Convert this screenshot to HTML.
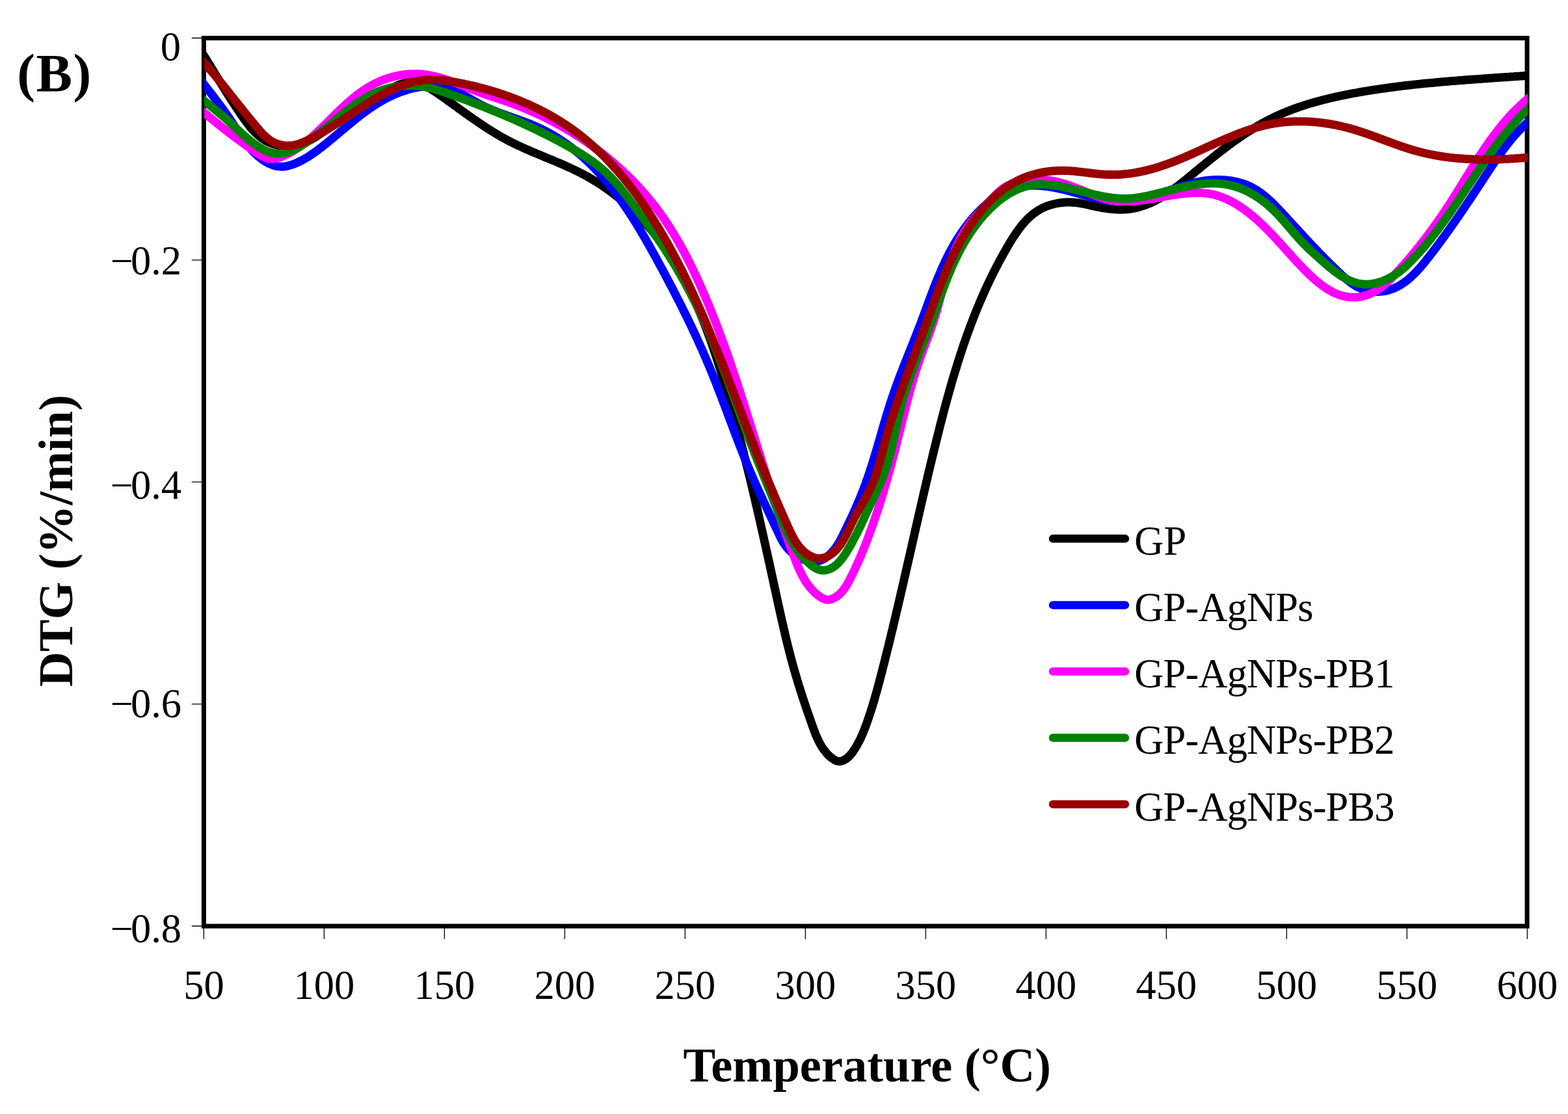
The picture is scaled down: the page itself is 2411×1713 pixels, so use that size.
<!DOCTYPE html>
<html lang="en"><head><meta charset="utf-8"><title>DTG curves (B)</title>
<style>html,body{margin:0;padding:0;background:#fff}body{width:2411px;height:1713px;overflow:hidden}svg{display:block}text{font-family:"Liberation Serif","DejaVu Serif",serif;fill:#000}.t{font-size:62.5px}.b{font-weight:bold}</style></head><body>
<svg xmlns="http://www.w3.org/2000/svg" width="2411" height="1713" viewBox="0 0 2411 1713">
<rect width="2411" height="1713" fill="#fff"/>
<defs><clipPath id="pa"><rect x="314" y="0" width="2035" height="1713"/></clipPath></defs>
<rect x="313.4" y="58.6" width="2034.7" height="1365.5" fill="none" stroke="#000" stroke-width="7"/>
<path d="M294.8,58.5H311.4 M294.8,399.9H311.4 M294.8,741.2H311.4 M294.8,1082.6H311.4 M294.8,1424.0H311.4 M313.4,1426.0V1444 M498.4,1426.0V1444 M683.4,1426.0V1444 M868.4,1426.0V1444 M1053.4,1426.0V1444 M1238.4,1426.0V1444 M1423.4,1426.0V1444 M1608.4,1426.0V1444 M1793.4,1426.0V1444 M1978.4,1426.0V1444 M2163.4,1426.0V1444 M2348.4,1426.0V1444" stroke="#000" stroke-width="1.3" fill="none"/>
<g clip-path="url(#pa)" fill="none" stroke-linejoin="round" stroke-width="13">
<path stroke="#000000" d="M300.0,64.0 L301.3,66.1 L302.7,68.2 L304.0,70.3 L305.4,72.5 L306.7,74.6 L308.0,76.7 L309.4,78.8 L310.7,80.9 L312.0,83.1 L313.3,85.2 L314.6,87.3 L316.0,89.4 L317.3,91.5 L318.6,93.7 L319.9,95.8 L321.2,97.9 L322.5,100.0 L323.8,102.1 L325.1,104.3 L326.4,106.4 L327.7,108.5 L329.0,110.6 L330.2,112.7 L331.5,114.9 L332.8,117.0 L334.1,119.1 L335.4,121.2 L336.7,123.3 L338.0,125.5 L339.3,127.6 L340.6,129.7 L341.9,131.8 L343.3,133.9 L344.6,136.0 L345.9,138.1 L347.2,140.2 L348.5,142.3 L349.9,144.4 L351.2,146.6 L352.5,148.7 L353.9,150.8 L355.2,152.9 L356.6,155.0 L357.9,157.0 L359.3,159.1 L360.6,161.2 L362.0,163.3 L363.4,165.4 L364.8,167.5 L366.2,169.6 L367.6,171.7 L369.0,173.7 L370.4,175.8 L371.8,177.9 L373.3,180.0 L374.7,182.0 L376.2,184.1 L377.7,186.1 L379.2,188.2 L380.7,190.2 L382.2,192.2 L383.8,194.1 L385.4,196.1 L387.0,198.0 L388.6,199.8 L390.3,201.6 L392.0,203.4 L393.8,205.1 L395.6,206.8 L397.4,208.4 L399.3,210.0 L401.3,211.5 L403.3,213.0 L405.3,214.3 L407.4,215.6 L409.5,216.9 L411.8,218.0 L414.0,219.1 L416.4,220.0 L418.7,220.9 L421.2,221.7 L423.6,222.4 L426.1,223.1 L428.6,223.6 L431.1,224.0 L433.6,224.4 L436.2,224.6 L438.7,224.8 L441.2,224.8 L443.7,224.8 L446.1,224.6 L448.6,224.4 L451.1,224.1 L453.5,223.7 L455.9,223.2 L458.4,222.7 L460.7,222.0 L463.1,221.3 L465.5,220.5 L467.8,219.6 L470.1,218.7 L472.4,217.7 L474.6,216.6 L476.9,215.5 L479.1,214.3 L481.2,213.0 L483.4,211.7 L485.5,210.4 L487.6,209.0 L489.7,207.6 L491.8,206.2 L493.9,204.8 L496.0,203.4 L498.1,201.9 L500.1,200.5 L502.2,199.2 L504.3,197.8 L506.4,196.4 L508.5,195.1 L510.6,193.7 L512.7,192.4 L514.8,191.0 L516.9,189.7 L519.0,188.4 L521.1,187.1 L523.3,185.8 L525.4,184.5 L527.5,183.2 L529.6,181.9 L531.7,180.6 L533.8,179.3 L536.0,178.1 L538.1,176.8 L540.2,175.5 L542.3,174.2 L544.4,172.9 L546.5,171.6 L548.7,170.4 L550.8,169.1 L552.9,167.8 L555.0,166.5 L557.1,165.2 L559.2,163.8 L561.3,162.5 L563.4,161.2 L565.5,159.9 L567.6,158.5 L569.7,157.2 L571.8,155.8 L573.9,154.4 L576.0,153.1 L578.1,151.7 L580.2,150.2 L582.3,148.8 L584.4,147.4 L586.4,146.0 L588.5,144.5 L590.6,143.1 L592.7,141.7 L594.8,140.3 L597.0,139.0 L599.1,137.7 L601.3,136.4 L603.4,135.2 L605.6,134.0 L607.9,132.9 L610.1,131.8 L612.4,130.8 L614.7,129.9 L617.1,129.1 L619.5,128.3 L621.9,127.7 L624.3,127.1 L626.8,126.7 L629.2,126.5 L631.6,126.4 L634.1,126.4 L636.5,126.6 L638.9,127.0 L641.3,127.5 L643.7,128.1 L646.0,128.9 L648.4,129.7 L650.7,130.7 L653.0,131.7 L655.3,132.9 L657.6,134.1 L659.9,135.3 L662.1,136.6 L664.3,138.0 L666.5,139.4 L668.7,140.8 L670.8,142.2 L672.9,143.6 L675.0,145.1 L677.1,146.5 L679.1,147.9 L681.1,149.3 L683.1,150.8 L685.1,152.2 L687.1,153.6 L689.1,155.0 L691.1,156.5 L693.0,157.9 L695.0,159.3 L697.0,160.8 L699.0,162.2 L701.0,163.6 L703.0,165.1 L704.9,166.5 L706.9,168.0 L708.9,169.4 L710.9,170.9 L713.0,172.3 L715.0,173.8 L717.0,175.2 L719.0,176.6 L721.0,178.1 L723.1,179.5 L725.1,180.9 L727.1,182.4 L729.2,183.8 L731.2,185.2 L733.3,186.6 L735.4,188.0 L737.4,189.4 L739.5,190.8 L741.6,192.2 L743.7,193.6 L745.7,195.0 L747.8,196.3 L749.9,197.7 L752.1,199.0 L754.2,200.4 L756.3,201.7 L758.4,203.0 L760.6,204.3 L762.7,205.6 L764.8,206.9 L767.0,208.2 L769.2,209.4 L771.3,210.7 L773.5,211.9 L775.7,213.1 L777.9,214.3 L780.1,215.5 L782.3,216.6 L784.5,217.8 L786.8,218.9 L789.0,220.0 L791.2,221.1 L793.5,222.2 L795.8,223.3 L798.0,224.3 L800.3,225.4 L802.5,226.4 L804.8,227.5 L807.1,228.5 L809.4,229.5 L811.7,230.5 L814.0,231.5 L816.3,232.5 L818.6,233.5 L820.9,234.5 L823.2,235.4 L825.5,236.4 L827.8,237.4 L830.1,238.3 L832.4,239.3 L834.7,240.2 L837.0,241.2 L839.4,242.2 L841.7,243.1 L844.0,244.1 L846.3,245.0 L848.6,246.0 L850.9,246.9 L853.2,247.9 L855.5,248.9 L857.8,249.9 L860.1,250.8 L862.4,251.8 L864.7,252.8 L867.0,253.8 L869.3,254.8 L871.5,255.8 L873.8,256.9 L876.1,257.9 L878.3,258.9 L880.6,260.0 L882.8,261.1 L885.1,262.1 L887.3,263.2 L889.6,264.3 L891.8,265.5 L894.0,266.6 L896.2,267.7 L898.4,268.9 L900.6,270.1 L902.8,271.3 L904.9,272.5 L907.1,273.8 L909.2,275.0 L911.4,276.3 L913.5,277.6 L915.6,278.9 L917.7,280.2 L919.8,281.5 L921.9,282.9 L924.0,284.2 L926.1,285.6 L928.2,287.0 L930.2,288.4 L932.3,289.9 L934.3,291.3 L936.3,292.8 L938.3,294.2 L940.3,295.7 L942.3,297.2 L944.3,298.7 L946.3,300.3 L948.2,301.8 L950.2,303.4 L952.1,305.0 L954.0,306.5 L956.0,308.1 L957.9,309.8 L959.8,311.4 L961.6,313.0 L963.5,314.7 L965.4,316.4 L967.2,318.0 L969.1,319.7 L970.9,321.4 L972.7,323.1 L974.5,324.9 L976.3,326.6 L978.1,328.4 L979.9,330.1 L981.6,331.9 L983.4,333.7 L985.1,335.5 L986.8,337.3 L988.5,339.1 L990.2,341.0 L991.9,342.8 L993.6,344.7 L995.2,346.5 L996.9,348.4 L998.5,350.3 L1000.1,352.2 L1001.8,354.1 L1003.3,356.0 L1004.9,357.9 L1006.5,359.8 L1008.1,361.8 L1009.6,363.7 L1011.1,365.7 L1012.7,367.7 L1014.2,369.6 L1015.7,371.6 L1017.1,373.6 L1018.6,375.6 L1020.1,377.6 L1021.5,379.7 L1022.9,381.7 L1024.4,383.7 L1025.8,385.8 L1027.1,387.8 L1028.5,389.9 L1029.9,391.9 L1031.3,394.0 L1032.6,396.1 L1033.9,398.2 L1035.3,400.3 L1036.6,402.4 L1037.9,404.5 L1039.1,406.6 L1040.4,408.7 L1041.7,410.9 L1042.9,413.0 L1044.2,415.1 L1045.4,417.3 L1046.6,419.5 L1047.8,421.6 L1049.0,423.8 L1050.2,426.0 L1051.4,428.2 L1052.6,430.3 L1053.7,432.5 L1054.9,434.7 L1056.0,437.0 L1057.2,439.2 L1058.3,441.4 L1059.4,443.6 L1060.5,445.8 L1061.6,448.1 L1062.7,450.3 L1063.7,452.6 L1064.8,454.8 L1065.8,457.1 L1066.9,459.3 L1067.9,461.6 L1069.0,463.9 L1070.0,466.2 L1071.0,468.4 L1072.0,470.7 L1073.0,473.0 L1074.0,475.3 L1074.9,477.6 L1075.9,479.9 L1076.9,482.2 L1077.8,484.5 L1078.8,486.8 L1079.7,489.2 L1080.7,491.5 L1081.6,493.8 L1082.5,496.1 L1083.4,498.5 L1084.3,500.8 L1085.2,503.2 L1086.1,505.5 L1087.0,507.8 L1087.9,510.2 L1088.7,512.5 L1089.6,514.9 L1090.5,517.3 L1091.3,519.6 L1092.2,522.0 L1093.0,524.4 L1093.8,526.7 L1094.7,529.1 L1095.5,531.5 L1096.3,533.8 L1097.1,536.2 L1097.9,538.6 L1098.7,541.0 L1099.5,543.4 L1100.3,545.8 L1101.1,548.1 L1101.9,550.5 L1102.7,552.9 L1103.4,555.3 L1104.2,557.7 L1105.0,560.1 L1105.7,562.5 L1106.5,564.9 L1107.2,567.3 L1108.0,569.7 L1108.7,572.1 L1109.5,574.5 L1110.2,576.9 L1110.9,579.3 L1111.7,581.7 L1112.4,584.1 L1113.1,586.5 L1113.9,588.9 L1114.6,591.3 L1115.3,593.7 L1116.0,596.1 L1116.7,598.5 L1117.4,600.9 L1118.1,603.3 L1118.8,605.7 L1119.5,608.1 L1120.2,610.5 L1120.9,612.9 L1121.6,615.3 L1122.3,617.7 L1123.0,620.1 L1123.6,622.5 L1124.3,625.0 L1125.0,627.4 L1125.7,629.8 L1126.3,632.2 L1127.0,634.6 L1127.7,637.0 L1128.3,639.4 L1129.0,641.8 L1129.7,644.2 L1130.3,646.6 L1131.0,649.0 L1131.6,651.4 L1132.3,653.8 L1132.9,656.2 L1133.6,658.6 L1134.2,661.0 L1134.9,663.4 L1135.5,665.8 L1136.1,668.2 L1136.8,670.6 L1137.4,673.1 L1138.0,675.5 L1138.7,677.9 L1139.3,680.3 L1139.9,682.7 L1140.5,685.1 L1141.1,687.5 L1141.8,689.9 L1142.4,692.3 L1143.0,694.7 L1143.6,697.1 L1144.2,699.5 L1144.8,702.0 L1145.4,704.4 L1146.0,706.8 L1146.6,709.2 L1147.2,711.6 L1147.8,714.0 L1148.4,716.4 L1149.0,718.8 L1149.6,721.2 L1150.2,723.6 L1150.8,726.1 L1151.4,728.5 L1152.0,730.9 L1152.6,733.3 L1153.2,735.7 L1153.7,738.1 L1154.3,740.5 L1154.9,743.0 L1155.5,745.4 L1156.1,747.8 L1156.6,750.2 L1157.2,752.6 L1157.8,755.0 L1158.4,757.4 L1158.9,759.9 L1159.5,762.3 L1160.1,764.7 L1160.6,767.1 L1161.2,769.5 L1161.8,772.0 L1162.3,774.4 L1162.9,776.8 L1163.4,779.2 L1164.0,781.6 L1164.6,784.1 L1165.1,786.5 L1165.7,788.9 L1166.2,791.3 L1166.8,793.7 L1167.3,796.2 L1167.9,798.6 L1168.4,801.0 L1169.0,803.4 L1169.5,805.9 L1170.1,808.3 L1170.6,810.7 L1171.2,813.1 L1171.7,815.6 L1172.3,818.0 L1172.8,820.4 L1173.4,822.8 L1173.9,825.3 L1174.5,827.7 L1175.0,830.1 L1175.5,832.6 L1176.1,835.0 L1176.6,837.4 L1177.2,839.9 L1177.7,842.3 L1178.2,844.7 L1178.8,847.2 L1179.3,849.6 L1179.9,852.0 L1180.4,854.5 L1180.9,856.9 L1181.5,859.3 L1182.0,861.8 L1182.5,864.2 L1183.1,866.6 L1183.6,869.1 L1184.1,871.5 L1184.7,874.0 L1185.2,876.4 L1185.7,878.8 L1186.3,881.3 L1186.8,883.7 L1187.3,886.2 L1187.9,888.6 L1188.4,891.1 L1188.9,893.5 L1189.5,895.9 L1190.0,898.4 L1190.5,900.8 L1191.1,903.3 L1191.6,905.7 L1192.1,908.2 L1192.7,910.6 L1193.2,913.1 L1193.7,915.5 L1194.3,918.0 L1194.8,920.4 L1195.3,922.9 L1195.9,925.3 L1196.4,927.8 L1197.0,930.2 L1197.5,932.7 L1198.0,935.1 L1198.6,937.6 L1199.1,940.0 L1199.7,942.5 L1200.2,944.9 L1200.7,947.4 L1201.3,949.8 L1201.8,952.3 L1202.4,954.7 L1203.0,957.2 L1203.5,959.6 L1204.1,962.1 L1204.6,964.5 L1205.2,967.0 L1205.8,969.4 L1206.3,971.8 L1206.9,974.3 L1207.5,976.7 L1208.1,979.1 L1208.6,981.6 L1209.2,984.0 L1209.8,986.4 L1210.4,988.8 L1211.0,991.3 L1211.6,993.7 L1212.2,996.1 L1212.8,998.5 L1213.4,1000.9 L1214.1,1003.3 L1214.7,1005.8 L1215.3,1008.2 L1215.9,1010.6 L1216.6,1013.0 L1217.2,1015.3 L1217.8,1017.7 L1218.5,1020.1 L1219.1,1022.5 L1219.8,1024.9 L1220.5,1027.3 L1221.1,1029.6 L1221.8,1032.0 L1222.5,1034.4 L1223.2,1036.7 L1223.9,1039.1 L1224.6,1041.5 L1225.3,1043.8 L1226.0,1046.2 L1226.7,1048.5 L1227.4,1050.9 L1228.1,1053.2 L1228.9,1055.6 L1229.6,1057.9 L1230.4,1060.3 L1231.1,1062.6 L1231.9,1065.0 L1232.6,1067.3 L1233.4,1069.6 L1234.1,1072.0 L1234.9,1074.3 L1235.7,1076.7 L1236.5,1079.0 L1237.2,1081.4 L1238.0,1083.7 L1238.8,1086.1 L1239.6,1088.5 L1240.4,1090.8 L1241.2,1093.2 L1242.1,1095.6 L1242.9,1097.9 L1243.7,1100.3 L1244.5,1102.7 L1245.4,1105.1 L1246.2,1107.5 L1247.0,1109.9 L1247.9,1112.3 L1248.7,1114.7 L1249.6,1117.1 L1250.5,1119.5 L1251.4,1121.9 L1252.3,1124.3 L1253.2,1126.7 L1254.1,1129.1 L1255.1,1131.4 L1256.1,1133.8 L1257.2,1136.1 L1258.2,1138.4 L1259.4,1140.6 L1260.5,1142.9 L1261.8,1145.0 L1263.0,1147.2 L1264.3,1149.3 L1265.7,1151.4 L1267.2,1153.4 L1268.7,1155.3 L1270.3,1157.3 L1271.9,1159.1 L1273.6,1160.9 L1275.4,1162.6 L1277.3,1164.3 L1279.3,1165.9 L1281.4,1167.3 L1283.5,1168.6 L1285.7,1169.7 L1288.0,1170.4 L1290.3,1170.7 L1292.6,1170.5 L1295.0,1170.0 L1297.3,1169.0 L1299.5,1167.8 L1301.7,1166.4 L1303.7,1164.8 L1305.6,1163.0 L1307.4,1161.1 L1309.0,1159.1 L1310.6,1157.1 L1312.1,1155.0 L1313.5,1152.9 L1314.9,1150.7 L1316.2,1148.6 L1317.5,1146.4 L1318.7,1144.2 L1319.9,1142.0 L1321.1,1139.8 L1322.2,1137.6 L1323.3,1135.4 L1324.3,1133.1 L1325.3,1130.9 L1326.3,1128.6 L1327.3,1126.3 L1328.2,1124.0 L1329.1,1121.7 L1330.0,1119.4 L1330.9,1117.1 L1331.7,1114.8 L1332.6,1112.5 L1333.4,1110.1 L1334.2,1107.8 L1335.0,1105.5 L1335.8,1103.1 L1336.6,1100.8 L1337.4,1098.4 L1338.2,1096.1 L1338.9,1093.7 L1339.7,1091.3 L1340.4,1089.0 L1341.2,1086.6 L1341.9,1084.2 L1342.6,1081.8 L1343.3,1079.5 L1344.1,1077.1 L1344.8,1074.7 L1345.4,1072.3 L1346.1,1069.9 L1346.8,1067.5 L1347.5,1065.1 L1348.2,1062.7 L1348.8,1060.3 L1349.5,1057.9 L1350.1,1055.5 L1350.8,1053.1 L1351.4,1050.7 L1352.1,1048.2 L1352.7,1045.8 L1353.4,1043.4 L1354.0,1041.0 L1354.6,1038.6 L1355.2,1036.2 L1355.9,1033.7 L1356.5,1031.3 L1357.1,1028.9 L1357.7,1026.5 L1358.3,1024.1 L1359.0,1021.6 L1359.6,1019.2 L1360.2,1016.8 L1360.8,1014.4 L1361.4,1012.0 L1362.0,1009.5 L1362.6,1007.1 L1363.2,1004.7 L1363.8,1002.3 L1364.4,999.8 L1365.0,997.4 L1365.6,995.0 L1366.2,992.6 L1366.8,990.1 L1367.4,987.7 L1368.0,985.3 L1368.6,982.9 L1369.2,980.4 L1369.8,978.0 L1370.3,975.6 L1370.9,973.2 L1371.5,970.7 L1372.1,968.3 L1372.7,965.9 L1373.3,963.5 L1373.8,961.0 L1374.4,958.6 L1375.0,956.2 L1375.6,953.7 L1376.2,951.3 L1376.7,948.9 L1377.3,946.5 L1377.9,944.0 L1378.4,941.6 L1379.0,939.2 L1379.6,936.7 L1380.2,934.3 L1380.7,931.9 L1381.3,929.5 L1381.9,927.0 L1382.4,924.6 L1383.0,922.2 L1383.6,919.7 L1384.1,917.3 L1384.7,914.9 L1385.2,912.4 L1385.8,910.0 L1386.4,907.6 L1386.9,905.2 L1387.5,902.7 L1388.1,900.3 L1388.6,897.9 L1389.2,895.4 L1389.7,893.0 L1390.3,890.6 L1390.8,888.1 L1391.4,885.7 L1392.0,883.3 L1392.5,880.8 L1393.1,878.4 L1393.6,876.0 L1394.2,873.6 L1394.7,871.1 L1395.3,868.7 L1395.8,866.3 L1396.4,863.8 L1396.9,861.4 L1397.5,859.0 L1398.1,856.5 L1398.6,854.1 L1399.2,851.7 L1399.7,849.2 L1400.3,846.8 L1400.8,844.4 L1401.4,841.9 L1401.9,839.5 L1402.5,837.1 L1403.0,834.7 L1403.6,832.2 L1404.1,829.8 L1404.7,827.4 L1405.2,824.9 L1405.8,822.5 L1406.3,820.1 L1406.9,817.6 L1407.4,815.2 L1408.0,812.8 L1408.5,810.3 L1409.1,807.9 L1409.7,805.5 L1410.2,803.0 L1410.8,800.6 L1411.3,798.2 L1411.9,795.8 L1412.4,793.3 L1413.0,790.9 L1413.5,788.5 L1414.1,786.0 L1414.7,783.6 L1415.2,781.2 L1415.8,778.7 L1416.3,776.3 L1416.9,773.9 L1417.4,771.5 L1418.0,769.0 L1418.6,766.6 L1419.1,764.2 L1419.7,761.7 L1420.3,759.3 L1420.8,756.9 L1421.4,754.5 L1422.0,752.0 L1422.5,749.6 L1423.1,747.2 L1423.7,744.8 L1424.2,742.3 L1424.8,739.9 L1425.4,737.5 L1425.9,735.1 L1426.5,732.6 L1427.1,730.2 L1427.6,727.8 L1428.2,725.3 L1428.8,722.9 L1429.4,720.5 L1430.0,718.1 L1430.5,715.7 L1431.1,713.2 L1431.7,710.8 L1432.3,708.4 L1432.9,706.0 L1433.4,703.5 L1434.0,701.1 L1434.6,698.7 L1435.2,696.3 L1435.8,693.8 L1436.4,691.4 L1437.0,689.0 L1437.6,686.6 L1438.2,684.2 L1438.8,681.7 L1439.4,679.3 L1439.9,676.9 L1440.5,674.5 L1441.2,672.1 L1441.8,669.6 L1442.4,667.2 L1443.0,664.8 L1443.6,662.4 L1444.2,660.0 L1444.8,657.6 L1445.4,655.1 L1446.0,652.7 L1446.6,650.3 L1447.3,647.9 L1447.9,645.5 L1448.5,643.1 L1449.1,640.7 L1449.8,638.3 L1450.4,635.8 L1451.0,633.4 L1451.7,631.0 L1452.3,628.6 L1452.9,626.2 L1453.6,623.8 L1454.2,621.4 L1454.9,619.0 L1455.5,616.6 L1456.2,614.2 L1456.9,611.8 L1457.5,609.4 L1458.2,607.0 L1458.9,604.6 L1459.5,602.2 L1460.2,599.8 L1460.9,597.4 L1461.6,595.0 L1462.3,592.6 L1462.9,590.2 L1463.6,587.8 L1464.3,585.4 L1465.0,583.0 L1465.7,580.7 L1466.4,578.3 L1467.2,575.9 L1467.9,573.5 L1468.6,571.1 L1469.3,568.7 L1470.1,566.4 L1470.8,564.0 L1471.5,561.6 L1472.3,559.2 L1473.0,556.9 L1473.8,554.5 L1474.5,552.1 L1475.3,549.7 L1476.0,547.4 L1476.8,545.0 L1477.6,542.6 L1478.4,540.3 L1479.1,537.9 L1479.9,535.6 L1480.7,533.2 L1481.5,530.8 L1482.3,528.5 L1483.1,526.1 L1484.0,523.8 L1484.8,521.4 L1485.6,519.1 L1486.4,516.8 L1487.3,514.4 L1488.1,512.1 L1489.0,509.7 L1489.8,507.4 L1490.7,505.1 L1491.5,502.7 L1492.4,500.4 L1493.3,498.1 L1494.2,495.7 L1495.1,493.4 L1496.0,491.1 L1496.9,488.8 L1497.8,486.5 L1498.7,484.1 L1499.6,481.8 L1500.5,479.5 L1501.5,477.2 L1502.4,474.9 L1503.3,472.6 L1504.3,470.3 L1505.3,468.0 L1506.2,465.7 L1507.2,463.4 L1508.2,461.1 L1509.2,458.8 L1510.2,456.5 L1511.2,454.2 L1512.2,452.0 L1513.2,449.7 L1514.2,447.4 L1515.2,445.1 L1516.3,442.9 L1517.3,440.6 L1518.4,438.3 L1519.4,436.0 L1520.5,433.8 L1521.6,431.5 L1522.7,429.3 L1523.8,427.0 L1524.9,424.8 L1526.0,422.5 L1527.1,420.3 L1528.2,418.0 L1529.4,415.8 L1530.5,413.6 L1531.6,411.3 L1532.8,409.1 L1534.0,406.9 L1535.1,404.6 L1536.3,402.4 L1537.5,400.2 L1538.7,398.0 L1539.9,395.8 L1541.1,393.6 L1542.4,391.4 L1543.6,389.2 L1544.8,387.0 L1546.1,384.8 L1547.4,382.6 L1548.6,380.4 L1549.9,378.2 L1551.2,376.0 L1552.5,373.8 L1553.8,371.7 L1555.1,369.5 L1556.5,367.3 L1557.8,365.2 L1559.2,363.1 L1560.6,361.0 L1562.0,358.9 L1563.4,356.8 L1564.9,354.8 L1566.3,352.8 L1567.8,350.8 L1569.3,348.8 L1570.9,346.8 L1572.5,344.9 L1574.1,343.1 L1575.7,341.2 L1577.4,339.4 L1579.0,337.7 L1580.8,335.9 L1582.5,334.3 L1584.3,332.6 L1586.2,331.1 L1588.0,329.5 L1590.0,328.0 L1591.9,326.6 L1593.9,325.2 L1595.9,323.9 L1598.0,322.6 L1600.2,321.4 L1602.3,320.3 L1604.6,319.2 L1606.8,318.2 L1609.1,317.3 L1611.5,316.4 L1613.9,315.6 L1616.3,314.8 L1618.8,314.2 L1621.3,313.5 L1623.8,313.0 L1626.3,312.5 L1628.9,312.1 L1631.4,311.8 L1634.0,311.5 L1636.5,311.3 L1639.1,311.1 L1641.6,311.0 L1644.1,311.0 L1646.6,311.1 L1649.1,311.2 L1651.5,311.4 L1654.0,311.6 L1656.4,311.9 L1658.8,312.2 L1661.2,312.6 L1663.5,313.0 L1665.9,313.5 L1668.3,314.0 L1670.6,314.5 L1673.0,315.0 L1675.4,315.5 L1677.7,316.1 L1680.1,316.6 L1682.5,317.1 L1685.0,317.7 L1687.4,318.2 L1689.9,318.7 L1692.3,319.2 L1694.9,319.6 L1697.4,320.0 L1699.9,320.4 L1702.5,320.8 L1705.1,321.1 L1707.6,321.4 L1710.2,321.6 L1712.8,321.8 L1715.4,322.0 L1718.0,322.1 L1720.6,322.2 L1723.1,322.2 L1725.7,322.2 L1728.2,322.1 L1730.7,321.9 L1733.3,321.8 L1735.7,321.5 L1738.2,321.2 L1740.6,320.8 L1743.1,320.4 L1745.5,319.9 L1747.9,319.4 L1750.2,318.8 L1752.6,318.1 L1754.9,317.4 L1757.2,316.7 L1759.5,315.9 L1761.8,315.1 L1764.0,314.2 L1766.3,313.3 L1768.5,312.4 L1770.7,311.4 L1772.9,310.3 L1775.1,309.3 L1777.2,308.1 L1779.4,307.0 L1781.5,305.8 L1783.7,304.6 L1785.8,303.4 L1787.9,302.1 L1790.0,300.8 L1792.1,299.5 L1794.1,298.1 L1796.2,296.7 L1798.2,295.3 L1800.3,293.9 L1802.3,292.4 L1804.3,291.0 L1806.4,289.5 L1808.4,288.0 L1810.4,286.5 L1812.4,284.9 L1814.4,283.4 L1816.4,281.8 L1818.3,280.2 L1820.3,278.6 L1822.3,277.1 L1824.3,275.5 L1826.2,273.8 L1828.2,272.2 L1830.2,270.6 L1832.1,269.0 L1834.1,267.4 L1836.0,265.8 L1838.0,264.2 L1839.9,262.5 L1841.9,260.9 L1843.9,259.3 L1845.8,257.7 L1847.8,256.1 L1849.7,254.5 L1851.7,252.9 L1853.6,251.3 L1855.6,249.7 L1857.6,248.1 L1859.5,246.6 L1861.5,245.0 L1863.4,243.4 L1865.4,241.8 L1867.4,240.3 L1869.3,238.7 L1871.3,237.2 L1873.3,235.6 L1875.3,234.1 L1877.2,232.5 L1879.2,231.0 L1881.2,229.5 L1883.2,228.0 L1885.2,226.5 L1887.2,225.0 L1889.2,223.5 L1891.2,222.0 L1893.2,220.5 L1895.2,219.1 L1897.2,217.6 L1899.2,216.2 L1901.3,214.7 L1903.3,213.3 L1905.3,211.9 L1907.4,210.5 L1909.4,209.1 L1911.4,207.7 L1913.5,206.4 L1915.6,205.0 L1917.6,203.6 L1919.7,202.3 L1921.8,201.0 L1923.9,199.7 L1926.0,198.4 L1928.1,197.1 L1930.2,195.8 L1932.3,194.6 L1934.4,193.3 L1936.6,192.1 L1938.7,190.9 L1940.8,189.7 L1943.0,188.5 L1945.2,187.3 L1947.3,186.1 L1949.5,185.0 L1951.7,183.9 L1953.9,182.8 L1956.1,181.7 L1958.3,180.6 L1960.5,179.5 L1962.8,178.5 L1965.0,177.5 L1967.3,176.5 L1969.5,175.5 L1971.8,174.5 L1974.1,173.5 L1976.4,172.6 L1978.6,171.6 L1980.9,170.7 L1983.3,169.8 L1985.6,168.9 L1987.9,168.0 L1990.2,167.2 L1992.6,166.3 L1994.9,165.5 L1997.3,164.7 L1999.6,163.9 L2002.0,163.1 L2004.3,162.3 L2006.7,161.5 L2009.1,160.8 L2011.5,160.1 L2013.9,159.3 L2016.3,158.6 L2018.7,157.9 L2021.1,157.2 L2023.5,156.5 L2025.9,155.9 L2028.3,155.2 L2030.8,154.6 L2033.2,153.9 L2035.6,153.3 L2038.1,152.7 L2040.5,152.1 L2042.9,151.5 L2045.4,150.9 L2047.8,150.3 L2050.3,149.8 L2052.8,149.2 L2055.2,148.7 L2057.7,148.1 L2060.1,147.6 L2062.6,147.1 L2065.1,146.6 L2067.5,146.1 L2070.0,145.6 L2072.5,145.1 L2075.0,144.6 L2077.4,144.1 L2079.9,143.7 L2082.4,143.2 L2084.9,142.8 L2087.3,142.3 L2089.8,141.9 L2092.3,141.4 L2094.8,141.0 L2097.2,140.6 L2099.7,140.2 L2102.2,139.8 L2104.7,139.4 L2107.1,139.0 L2109.6,138.6 L2112.1,138.2 L2114.6,137.8 L2117.0,137.5 L2119.5,137.1 L2122.0,136.7 L2124.4,136.4 L2126.9,136.0 L2129.4,135.7 L2131.9,135.3 L2134.3,135.0 L2136.8,134.6 L2139.3,134.3 L2141.7,134.0 L2144.2,133.7 L2146.7,133.4 L2149.1,133.0 L2151.6,132.7 L2154.1,132.4 L2156.5,132.1 L2159.0,131.8 L2161.5,131.5 L2163.9,131.3 L2166.4,131.0 L2168.9,130.7 L2171.3,130.4 L2173.8,130.1 L2176.3,129.9 L2178.7,129.6 L2181.2,129.4 L2183.7,129.1 L2186.1,128.8 L2188.6,128.6 L2191.1,128.3 L2193.5,128.1 L2196.0,127.9 L2198.5,127.6 L2200.9,127.4 L2203.4,127.2 L2205.9,126.9 L2208.3,126.7 L2210.8,126.5 L2213.3,126.3 L2215.7,126.0 L2218.2,125.8 L2220.7,125.6 L2223.1,125.4 L2225.6,125.2 L2228.1,125.0 L2230.5,124.8 L2233.0,124.6 L2235.5,124.4 L2238.0,124.2 L2240.4,124.0 L2242.9,123.8 L2245.4,123.6 L2247.8,123.4 L2250.3,123.2 L2252.8,123.0 L2255.3,122.8 L2257.7,122.6 L2260.2,122.5 L2262.7,122.3 L2265.2,122.1 L2267.7,121.9 L2270.1,121.7 L2272.6,121.6 L2275.1,121.4 L2277.6,121.2 L2280.1,121.0 L2282.6,120.8 L2285.0,120.7 L2287.5,120.5 L2290.0,120.3 L2292.5,120.2 L2295.0,120.0 L2297.5,119.8 L2300.0,119.6 L2302.5,119.5 L2305.0,119.3 L2307.5,119.1 L2309.9,119.0 L2312.4,118.8 L2314.9,118.6 L2317.4,118.4 L2319.9,118.3 L2322.4,118.1 L2324.9,117.9 L2327.5,117.8 L2330.0,117.6 L2332.5,117.4 L2335.0,117.2 L2337.5,117.1 L2340.0,116.9 L2342.5,116.7 L2345.0,116.5 L2347.5,116.4 L2350.0,116.2 L2352.6,116.0 L2355.1,115.8 L2357.6,115.6 L2360.1,115.4"/>
<path stroke="#0000ff" d="M299.9,111.0 L301.2,112.9 L302.6,114.7 L303.9,116.5 L305.2,118.4 L306.5,120.2 L307.9,122.0 L309.2,123.8 L310.6,125.6 L311.9,127.4 L313.3,129.2 L314.6,131.0 L316.0,132.7 L317.3,134.5 L318.7,136.3 L320.0,138.0 L321.4,139.8 L322.8,141.6 L324.1,143.3 L325.5,145.1 L326.8,146.8 L328.2,148.6 L329.5,150.3 L330.9,152.1 L332.2,153.9 L333.6,155.6 L334.9,157.4 L336.3,159.2 L337.6,160.9 L338.9,162.7 L340.2,164.5 L341.6,166.3 L342.9,168.1 L344.2,169.9 L345.5,171.7 L346.8,173.5 L348.1,175.3 L349.3,177.1 L350.6,179.0 L351.9,180.8 L353.1,182.7 L354.4,184.6 L355.6,186.4 L356.9,188.3 L358.1,190.2 L359.3,192.1 L360.5,194.0 L361.8,195.9 L363.0,197.8 L364.2,199.7 L365.5,201.6 L366.7,203.5 L367.9,205.4 L369.2,207.3 L370.4,209.1 L371.7,211.0 L373.0,212.9 L374.3,214.7 L375.6,216.5 L376.9,218.3 L378.3,220.1 L379.6,221.9 L381.0,223.7 L382.4,225.4 L383.9,227.1 L385.3,228.8 L386.8,230.5 L388.3,232.1 L389.9,233.7 L391.4,235.3 L393.0,236.8 L394.7,238.3 L396.3,239.8 L398.0,241.2 L399.8,242.6 L401.6,244.0 L403.4,245.3 L405.3,246.6 L407.2,247.8 L409.1,249.0 L411.1,250.1 L413.1,251.2 L415.2,252.1 L417.3,253.0 L419.4,253.8 L421.5,254.5 L423.7,255.1 L425.8,255.6 L428.0,255.9 L430.2,256.1 L432.4,256.2 L434.6,256.2 L436.8,256.0 L439.0,255.7 L441.2,255.3 L443.4,254.8 L445.6,254.2 L447.8,253.6 L450.0,252.9 L452.1,252.1 L454.3,251.2 L456.4,250.3 L458.5,249.4 L460.5,248.4 L462.6,247.4 L464.6,246.3 L466.6,245.3 L468.5,244.2 L470.5,243.0 L472.4,241.9 L474.3,240.7 L476.2,239.5 L478.1,238.2 L479.9,237.0 L481.8,235.7 L483.6,234.4 L485.4,233.1 L487.3,231.8 L489.1,230.4 L490.8,229.1 L492.6,227.7 L494.4,226.4 L496.2,225.0 L497.9,223.6 L499.7,222.2 L501.4,220.8 L503.2,219.4 L504.9,218.0 L506.6,216.6 L508.4,215.2 L510.1,213.7 L511.8,212.3 L513.5,210.9 L515.2,209.4 L517.0,208.0 L518.7,206.6 L520.4,205.1 L522.1,203.7 L523.8,202.2 L525.5,200.8 L527.2,199.4 L528.9,197.9 L530.6,196.5 L532.3,195.1 L534.0,193.6 L535.8,192.2 L537.5,190.8 L539.2,189.3 L540.9,187.9 L542.6,186.5 L544.4,185.1 L546.1,183.7 L547.8,182.3 L549.6,180.9 L551.3,179.6 L553.1,178.2 L554.8,176.8 L556.6,175.5 L558.4,174.2 L560.2,172.8 L562.0,171.5 L563.8,170.2 L565.6,168.9 L567.4,167.6 L569.2,166.4 L571.1,165.1 L572.9,163.9 L574.8,162.6 L576.6,161.4 L578.5,160.2 L580.4,159.0 L582.3,157.9 L584.2,156.7 L586.2,155.6 L588.1,154.5 L590.1,153.4 L592.0,152.3 L594.0,151.3 L596.0,150.2 L598.1,149.2 L600.1,148.2 L602.1,147.3 L604.2,146.3 L606.3,145.4 L608.4,144.5 L610.5,143.6 L612.6,142.8 L614.7,142.0 L616.9,141.2 L619.0,140.4 L621.2,139.7 L623.3,139.0 L625.5,138.3 L627.7,137.6 L629.9,137.0 L632.0,136.5 L634.2,135.9 L636.4,135.4 L638.6,134.9 L640.9,134.5 L643.1,134.1 L645.3,133.7 L647.5,133.4 L649.7,133.1 L651.9,132.9 L654.1,132.7 L656.4,132.5 L658.6,132.4 L660.8,132.4 L663.0,132.3 L665.2,132.4 L667.4,132.4 L669.6,132.6 L671.8,132.7 L673.9,132.9 L676.1,133.2 L678.3,133.5 L680.4,133.9 L682.6,134.3 L684.7,134.8 L686.9,135.3 L689.0,135.9 L691.1,136.5 L693.2,137.2 L695.3,137.9 L697.3,138.7 L699.4,139.6 L701.4,140.5 L703.5,141.4 L705.5,142.4 L707.5,143.4 L709.6,144.4 L711.6,145.5 L713.6,146.6 L715.6,147.7 L717.6,148.8 L719.6,150.0 L721.6,151.1 L723.6,152.3 L725.6,153.4 L727.6,154.6 L729.5,155.7 L731.6,156.8 L733.6,157.9 L735.6,159.0 L737.6,160.1 L739.6,161.2 L741.6,162.2 L743.7,163.2 L745.7,164.2 L747.8,165.1 L749.8,166.0 L751.9,167.0 L753.9,167.8 L756.0,168.7 L758.1,169.6 L760.2,170.4 L762.2,171.3 L764.3,172.1 L766.4,172.9 L768.5,173.7 L770.6,174.4 L772.7,175.2 L774.8,176.0 L776.9,176.7 L778.9,177.5 L781.0,178.2 L783.1,179.0 L785.2,179.7 L787.3,180.5 L789.4,181.2 L791.5,181.9 L793.6,182.7 L795.7,183.4 L797.8,184.2 L799.9,184.9 L802.0,185.7 L804.1,186.5 L806.2,187.2 L808.2,188.0 L810.3,188.8 L812.4,189.6 L814.5,190.4 L816.5,191.3 L818.6,192.1 L820.6,193.0 L822.7,193.9 L824.7,194.8 L826.8,195.7 L828.8,196.6 L830.8,197.6 L832.8,198.5 L834.9,199.5 L836.9,200.5 L838.9,201.6 L840.8,202.6 L842.8,203.7 L844.8,204.8 L846.8,205.9 L848.7,207.0 L850.7,208.1 L852.6,209.3 L854.5,210.4 L856.5,211.6 L858.4,212.8 L860.3,214.0 L862.1,215.2 L864.0,216.5 L865.9,217.7 L867.7,219.0 L869.6,220.3 L871.4,221.6 L873.2,222.9 L875.0,224.2 L876.8,225.5 L878.6,226.9 L880.3,228.2 L882.1,229.6 L883.8,231.0 L885.5,232.4 L887.3,233.8 L889.0,235.2 L890.7,236.6 L892.3,238.1 L894.0,239.5 L895.7,241.0 L897.3,242.4 L899.0,243.9 L900.6,245.4 L902.2,246.9 L903.8,248.5 L905.4,250.0 L907.0,251.5 L908.6,253.1 L910.2,254.6 L911.7,256.2 L913.3,257.8 L914.8,259.4 L916.3,261.0 L917.9,262.6 L919.4,264.2 L920.9,265.9 L922.4,267.5 L923.8,269.1 L925.3,270.8 L926.8,272.5 L928.2,274.1 L929.7,275.8 L931.1,277.5 L932.5,279.2 L934.0,280.9 L935.4,282.6 L936.8,284.4 L938.2,286.1 L939.6,287.8 L940.9,289.6 L942.3,291.4 L943.7,293.1 L945.0,294.9 L946.4,296.7 L947.7,298.5 L949.0,300.2 L950.4,302.0 L951.7,303.9 L953.0,305.7 L954.3,307.5 L955.6,309.3 L956.9,311.1 L958.2,313.0 L959.4,314.8 L960.7,316.7 L962.0,318.5 L963.2,320.4 L964.5,322.3 L965.7,324.1 L967.0,326.0 L968.2,327.9 L969.4,329.8 L970.7,331.7 L971.9,333.6 L973.1,335.5 L974.3,337.4 L975.5,339.3 L976.7,341.2 L977.9,343.1 L979.0,345.0 L980.2,347.0 L981.4,348.9 L982.6,350.8 L983.7,352.7 L984.9,354.7 L986.0,356.6 L987.2,358.6 L988.3,360.5 L989.5,362.5 L990.6,364.4 L991.8,366.4 L992.9,368.3 L994.0,370.3 L995.1,372.3 L996.3,374.2 L997.4,376.2 L998.5,378.2 L999.6,380.1 L1000.7,382.1 L1001.8,384.1 L1002.9,386.0 L1004.0,388.0 L1005.1,390.0 L1006.2,392.0 L1007.3,393.9 L1008.4,395.9 L1009.4,397.9 L1010.5,399.9 L1011.6,401.9 L1012.7,403.8 L1013.7,405.8 L1014.8,407.8 L1015.9,409.8 L1017.0,411.7 L1018.0,413.7 L1019.1,415.7 L1020.1,417.7 L1021.2,419.7 L1022.3,421.6 L1023.3,423.6 L1024.4,425.6 L1025.4,427.6 L1026.5,429.5 L1027.5,431.5 L1028.6,433.5 L1029.6,435.5 L1030.6,437.5 L1031.7,439.4 L1032.7,441.4 L1033.8,443.4 L1034.8,445.4 L1035.8,447.4 L1036.8,449.3 L1037.9,451.3 L1038.9,453.3 L1039.9,455.3 L1040.9,457.3 L1041.9,459.3 L1042.9,461.2 L1044.0,463.2 L1045.0,465.2 L1046.0,467.2 L1047.0,469.2 L1048.0,471.2 L1049.0,473.2 L1050.0,475.2 L1050.9,477.2 L1051.9,479.1 L1052.9,481.1 L1053.9,483.1 L1054.9,485.1 L1055.9,487.1 L1056.8,489.1 L1057.8,491.1 L1058.8,493.1 L1059.7,495.1 L1060.7,497.1 L1061.7,499.1 L1062.6,501.1 L1063.6,503.1 L1064.5,505.1 L1065.5,507.1 L1066.4,509.2 L1067.4,511.2 L1068.3,513.2 L1069.3,515.2 L1070.2,517.2 L1071.1,519.2 L1072.0,521.2 L1073.0,523.3 L1073.9,525.3 L1074.8,527.3 L1075.7,529.3 L1076.6,531.4 L1077.5,533.4 L1078.5,535.4 L1079.4,537.4 L1080.3,539.5 L1081.2,541.5 L1082.0,543.5 L1082.9,545.6 L1083.8,547.6 L1084.7,549.7 L1085.6,551.7 L1086.5,553.8 L1087.3,555.8 L1088.2,557.8 L1089.1,559.9 L1089.9,562.0 L1090.8,564.0 L1091.7,566.1 L1092.5,568.1 L1093.4,570.2 L1094.2,572.3 L1095.0,574.3 L1095.9,576.4 L1096.7,578.5 L1097.6,580.5 L1098.4,582.6 L1099.2,584.7 L1100.0,586.8 L1100.9,588.9 L1101.7,590.9 L1102.5,593.0 L1103.3,595.1 L1104.1,597.2 L1104.9,599.3 L1105.7,601.4 L1106.5,603.5 L1107.3,605.6 L1108.1,607.6 L1108.9,609.7 L1109.7,611.8 L1110.5,613.9 L1111.3,616.0 L1112.1,618.1 L1112.9,620.2 L1113.7,622.3 L1114.5,624.4 L1115.3,626.5 L1116.1,628.6 L1116.9,630.7 L1117.7,632.8 L1118.5,634.9 L1119.2,637.0 L1120.0,639.1 L1120.8,641.3 L1121.6,643.4 L1122.4,645.5 L1123.2,647.6 L1124.0,649.7 L1124.8,651.8 L1125.6,653.9 L1126.3,656.0 L1127.1,658.1 L1127.9,660.2 L1128.7,662.3 L1129.5,664.4 L1130.3,666.5 L1131.1,668.6 L1131.9,670.7 L1132.7,672.8 L1133.5,674.9 L1134.3,677.0 L1135.1,679.1 L1135.9,681.2 L1136.7,683.3 L1137.5,685.4 L1138.3,687.4 L1139.1,689.5 L1140.0,691.6 L1140.8,693.7 L1141.6,695.8 L1142.4,697.9 L1143.3,700.0 L1144.1,702.1 L1144.9,704.1 L1145.7,706.2 L1146.6,708.3 L1147.4,710.4 L1148.3,712.4 L1149.1,714.5 L1150.0,716.6 L1150.8,718.6 L1151.7,720.7 L1152.6,722.8 L1153.4,724.8 L1154.3,726.9 L1155.2,728.9 L1156.0,731.0 L1156.9,733.0 L1157.8,735.1 L1158.7,737.1 L1159.6,739.2 L1160.5,741.2 L1161.4,743.2 L1162.3,745.3 L1163.2,747.3 L1164.1,749.3 L1165.1,751.4 L1166.0,753.4 L1166.9,755.4 L1167.8,757.5 L1168.8,759.5 L1169.7,761.5 L1170.6,763.5 L1171.6,765.5 L1172.5,767.6 L1173.5,769.6 L1174.4,771.6 L1175.3,773.6 L1176.3,775.6 L1177.2,777.7 L1178.2,779.7 L1179.1,781.7 L1180.1,783.7 L1181.0,785.7 L1182.0,787.8 L1182.9,789.8 L1183.9,791.8 L1184.8,793.8 L1185.8,795.9 L1186.8,797.9 L1187.7,799.9 L1188.7,801.9 L1189.6,804.0 L1190.6,806.0 L1191.5,808.0 L1192.5,810.1 L1193.4,812.1 L1194.4,814.1 L1195.3,816.2 L1196.3,818.2 L1197.2,820.3 L1198.2,822.3 L1199.1,824.3 L1200.1,826.3 L1201.2,828.3 L1202.2,830.3 L1203.3,832.2 L1204.4,834.1 L1205.6,836.0 L1206.9,837.8 L1208.2,839.6 L1209.5,841.3 L1211.0,843.0 L1212.4,844.7 L1214.0,846.3 L1215.6,847.8 L1217.3,849.3 L1219.1,850.7 L1220.9,852.1 L1222.8,853.4 L1224.7,854.6 L1226.7,855.8 L1228.7,857.0 L1230.8,858.0 L1232.9,859.1 L1235.0,860.0 L1237.2,860.9 L1239.4,861.6 L1241.6,862.3 L1243.8,862.8 L1246.0,863.3 L1248.2,863.5 L1250.5,863.7 L1252.6,863.7 L1254.8,863.5 L1256.9,863.1 L1259.0,862.6 L1261.1,862.0 L1263.1,861.2 L1265.1,860.2 L1267.1,859.2 L1269.0,858.0 L1270.9,856.7 L1272.7,855.3 L1274.5,853.8 L1276.2,852.2 L1277.9,850.6 L1279.5,848.9 L1281.1,847.1 L1282.6,845.3 L1284.0,843.5 L1285.4,841.6 L1286.7,839.7 L1288.0,837.8 L1289.2,835.9 L1290.3,834.0 L1291.4,832.1 L1292.4,830.1 L1293.4,828.2 L1294.4,826.3 L1295.4,824.3 L1296.4,822.3 L1297.3,820.4 L1298.3,818.4 L1299.3,816.5 L1300.3,814.5 L1301.2,812.5 L1302.2,810.5 L1303.2,808.5 L1304.1,806.5 L1305.1,804.5 L1306.0,802.5 L1307.0,800.5 L1307.9,798.5 L1308.9,796.4 L1309.8,794.4 L1310.8,792.4 L1311.7,790.3 L1312.6,788.3 L1313.5,786.3 L1314.5,784.2 L1315.4,782.2 L1316.3,780.1 L1317.2,778.0 L1318.1,776.0 L1319.0,773.9 L1319.9,771.8 L1320.7,769.8 L1321.6,767.7 L1322.5,765.6 L1323.3,763.5 L1324.2,761.4 L1325.0,759.3 L1325.8,757.2 L1326.6,755.2 L1327.5,753.1 L1328.3,751.0 L1329.0,748.9 L1329.8,746.8 L1330.6,744.7 L1331.4,742.5 L1332.1,740.4 L1332.9,738.3 L1333.6,736.2 L1334.4,734.1 L1335.1,732.0 L1335.8,729.9 L1336.5,727.8 L1337.2,725.6 L1337.9,723.5 L1338.6,721.4 L1339.3,719.3 L1340.0,717.1 L1340.6,715.0 L1341.3,712.9 L1342.0,710.8 L1342.6,708.6 L1343.3,706.5 L1344.0,704.4 L1344.6,702.2 L1345.2,700.1 L1345.9,698.0 L1346.5,695.8 L1347.2,693.7 L1347.8,691.6 L1348.4,689.4 L1349.0,687.3 L1349.7,685.1 L1350.3,683.0 L1350.9,680.9 L1351.5,678.7 L1352.2,676.6 L1352.8,674.5 L1353.4,672.3 L1354.0,670.2 L1354.6,668.0 L1355.2,665.9 L1355.9,663.8 L1356.5,661.6 L1357.1,659.5 L1357.7,657.3 L1358.3,655.2 L1359.0,653.1 L1359.6,650.9 L1360.2,648.8 L1360.9,646.6 L1361.5,644.5 L1362.1,642.4 L1362.8,640.2 L1363.4,638.1 L1364.1,636.0 L1364.7,633.8 L1365.4,631.7 L1366.0,629.6 L1366.7,627.4 L1367.4,625.3 L1368.0,623.2 L1368.7,621.0 L1369.4,618.9 L1370.1,616.8 L1370.8,614.7 L1371.5,612.5 L1372.2,610.4 L1372.9,608.3 L1373.7,606.2 L1374.4,604.1 L1375.1,601.9 L1375.9,599.8 L1376.6,597.7 L1377.4,595.6 L1378.2,593.5 L1378.9,591.4 L1379.7,589.3 L1380.5,587.2 L1381.3,585.0 L1382.0,582.9 L1382.8,580.8 L1383.6,578.7 L1384.4,576.6 L1385.2,574.5 L1386.0,572.4 L1386.9,570.3 L1387.7,568.2 L1388.5,566.1 L1389.3,564.0 L1390.1,561.9 L1391.0,559.8 L1391.8,557.7 L1392.6,555.6 L1393.4,553.6 L1394.3,551.5 L1395.1,549.4 L1395.9,547.3 L1396.8,545.2 L1397.6,543.1 L1398.4,541.0 L1399.3,538.9 L1400.1,536.8 L1400.9,534.7 L1401.8,532.6 L1402.6,530.6 L1403.4,528.5 L1404.3,526.4 L1405.1,524.3 L1405.9,522.2 L1406.8,520.1 L1407.6,518.0 L1408.4,516.0 L1409.2,513.9 L1410.0,511.8 L1410.9,509.7 L1411.7,507.6 L1412.5,505.5 L1413.3,503.4 L1414.1,501.4 L1414.9,499.3 L1415.7,497.2 L1416.5,495.1 L1417.3,493.0 L1418.0,490.9 L1418.8,488.9 L1419.6,486.8 L1420.4,484.7 L1421.1,482.6 L1421.9,480.5 L1422.7,478.4 L1423.5,476.4 L1424.2,474.3 L1425.0,472.2 L1425.7,470.1 L1426.5,468.0 L1427.3,466.0 L1428.0,463.9 L1428.8,461.8 L1429.6,459.7 L1430.4,457.7 L1431.1,455.6 L1431.9,453.5 L1432.7,451.5 L1433.5,449.4 L1434.2,447.3 L1435.0,445.3 L1435.8,443.2 L1436.6,441.2 L1437.4,439.1 L1438.2,437.1 L1439.0,435.0 L1439.9,433.0 L1440.7,430.9 L1441.5,428.9 L1442.3,426.8 L1443.2,424.8 L1444.0,422.8 L1444.9,420.7 L1445.8,418.7 L1446.6,416.7 L1447.5,414.7 L1448.4,412.7 L1449.3,410.6 L1450.2,408.6 L1451.1,406.6 L1452.1,404.6 L1453.0,402.6 L1454.0,400.6 L1454.9,398.6 L1455.9,396.6 L1456.9,394.7 L1457.9,392.7 L1458.9,390.7 L1459.9,388.7 L1461.0,386.8 L1462.0,384.8 L1463.1,382.9 L1464.2,380.9 L1465.3,379.0 L1466.4,377.0 L1467.5,375.1 L1468.7,373.1 L1469.8,371.2 L1471.0,369.3 L1472.2,367.4 L1473.4,365.5 L1474.6,363.6 L1475.9,361.7 L1477.1,359.8 L1478.4,357.9 L1479.7,356.0 L1481.0,354.1 L1482.4,352.2 L1483.7,350.4 L1485.1,348.5 L1486.5,346.7 L1487.9,344.8 L1489.3,343.0 L1490.8,341.2 L1492.2,339.4 L1493.7,337.6 L1495.2,335.8 L1496.7,334.1 L1498.3,332.3 L1499.8,330.6 L1501.4,328.9 L1503.0,327.2 L1504.6,325.6 L1506.2,323.9 L1507.9,322.3 L1509.5,320.7 L1511.2,319.1 L1512.9,317.6 L1514.6,316.0 L1516.3,314.5 L1518.0,313.1 L1519.8,311.6 L1521.6,310.2 L1523.4,308.8 L1525.2,307.5 L1527.0,306.1 L1528.8,304.9 L1530.6,303.6 L1532.5,302.4 L1534.4,301.2 L1536.3,300.0 L1538.2,298.9 L1540.1,297.8 L1542.0,296.8 L1544.0,295.8 L1545.9,294.8 L1547.9,293.9 L1549.9,293.1 L1551.9,292.2 L1553.9,291.4 L1556.0,290.7 L1558.0,290.0 L1560.1,289.3 L1562.1,288.7 L1564.2,288.2 L1566.3,287.7 L1568.4,287.2 L1570.6,286.8 L1572.7,286.5 L1574.8,286.2 L1577.0,285.9 L1579.2,285.7 L1581.3,285.5 L1583.5,285.4 L1585.7,285.3 L1587.9,285.3 L1590.1,285.2 L1592.3,285.3 L1594.6,285.3 L1596.8,285.4 L1599.0,285.6 L1601.2,285.8 L1603.5,286.0 L1605.7,286.2 L1608.0,286.5 L1610.2,286.7 L1612.5,287.1 L1614.7,287.4 L1617.0,287.8 L1619.2,288.2 L1621.5,288.6 L1623.7,289.0 L1626.0,289.5 L1628.2,290.0 L1630.5,290.4 L1632.7,291.0 L1634.9,291.5 L1637.2,292.0 L1639.4,292.6 L1641.6,293.1 L1643.8,293.7 L1646.0,294.3 L1648.2,294.9 L1650.4,295.5 L1652.6,296.1 L1654.8,296.7 L1657.0,297.3 L1659.1,297.9 L1661.3,298.5 L1663.5,299.2 L1665.6,299.8 L1667.8,300.3 L1669.9,300.9 L1672.1,301.5 L1674.2,302.1 L1676.3,302.6 L1678.5,303.2 L1680.6,303.7 L1682.8,304.2 L1684.9,304.7 L1687.1,305.1 L1689.2,305.6 L1691.4,306.0 L1693.5,306.4 L1695.7,306.7 L1697.8,307.1 L1700.0,307.3 L1702.2,307.6 L1704.4,307.8 L1706.5,308.0 L1708.7,308.2 L1710.9,308.3 L1713.1,308.4 L1715.4,308.4 L1717.6,308.4 L1719.8,308.4 L1722.0,308.4 L1724.2,308.3 L1726.5,308.2 L1728.7,308.0 L1730.9,307.9 L1733.2,307.7 L1735.4,307.5 L1737.7,307.2 L1739.9,306.9 L1742.1,306.6 L1744.4,306.3 L1746.6,306.0 L1748.9,305.6 L1751.1,305.2 L1753.3,304.8 L1755.6,304.4 L1757.8,303.9 L1760.0,303.4 L1762.3,302.9 L1764.5,302.4 L1766.7,301.9 L1768.9,301.4 L1771.1,300.8 L1773.3,300.2 L1775.5,299.6 L1777.7,299.0 L1779.9,298.4 L1782.1,297.8 L1784.2,297.1 L1786.4,296.5 L1788.5,295.8 L1790.7,295.2 L1792.8,294.5 L1794.9,293.8 L1797.1,293.1 L1799.2,292.4 L1801.3,291.7 L1803.4,291.0 L1805.5,290.3 L1807.6,289.6 L1809.7,288.9 L1811.8,288.2 L1813.9,287.6 L1816.0,286.9 L1818.1,286.2 L1820.2,285.6 L1822.3,284.9 L1824.4,284.3 L1826.5,283.7 L1828.6,283.1 L1830.7,282.5 L1832.8,282.0 L1835.0,281.4 L1837.1,280.9 L1839.3,280.4 L1841.4,279.9 L1843.6,279.5 L1845.8,279.1 L1848.0,278.7 L1850.2,278.3 L1852.4,278.0 L1854.6,277.7 L1856.9,277.4 L1859.1,277.2 L1861.4,277.0 L1863.7,276.8 L1865.9,276.7 L1868.2,276.6 L1870.5,276.6 L1872.8,276.5 L1875.1,276.5 L1877.3,276.6 L1879.6,276.7 L1881.9,276.8 L1884.2,277.0 L1886.5,277.2 L1888.7,277.4 L1891.0,277.7 L1893.2,278.0 L1895.4,278.4 L1897.7,278.8 L1899.9,279.3 L1902.1,279.7 L1904.2,280.3 L1906.4,280.9 L1908.5,281.5 L1910.7,282.2 L1912.8,282.9 L1914.9,283.6 L1916.9,284.4 L1918.9,285.3 L1921.0,286.2 L1922.9,287.1 L1924.9,288.1 L1926.8,289.2 L1928.7,290.3 L1930.6,291.4 L1932.5,292.5 L1934.3,293.7 L1936.1,295.0 L1937.9,296.2 L1939.7,297.5 L1941.5,298.9 L1943.2,300.3 L1945.0,301.6 L1946.7,303.1 L1948.4,304.5 L1950.0,306.0 L1951.7,307.5 L1953.3,309.0 L1955.0,310.6 L1956.6,312.1 L1958.2,313.7 L1959.8,315.3 L1961.4,316.9 L1963.0,318.5 L1964.6,320.2 L1966.1,321.8 L1967.7,323.4 L1969.3,325.1 L1970.8,326.8 L1972.3,328.4 L1973.9,330.1 L1975.4,331.8 L1977.0,333.4 L1978.5,335.1 L1980.0,336.8 L1981.5,338.4 L1983.1,340.1 L1984.6,341.8 L1986.1,343.4 L1987.6,345.1 L1989.1,346.7 L1990.7,348.4 L1992.2,350.0 L1993.7,351.7 L1995.2,353.3 L1996.7,355.0 L1998.2,356.6 L1999.8,358.3 L2001.3,359.9 L2002.8,361.5 L2004.3,363.2 L2005.8,364.8 L2007.3,366.4 L2008.9,368.1 L2010.4,369.7 L2011.9,371.3 L2013.4,373.0 L2014.9,374.6 L2016.5,376.2 L2018.0,377.8 L2019.5,379.4 L2021.1,381.0 L2022.6,382.6 L2024.1,384.2 L2025.7,385.8 L2027.2,387.5 L2028.7,389.0 L2030.3,390.6 L2031.8,392.2 L2033.4,393.8 L2035.0,395.4 L2036.5,397.0 L2038.1,398.6 L2039.7,400.2 L2041.2,401.7 L2042.8,403.3 L2044.4,404.9 L2046.0,406.5 L2047.6,408.0 L2049.2,409.6 L2050.8,411.1 L2052.4,412.7 L2054.0,414.3 L2055.6,415.8 L2057.2,417.4 L2058.9,418.9 L2060.5,420.4 L2062.1,422.0 L2063.8,423.5 L2065.4,425.0 L2067.1,426.5 L2068.8,428.0 L2070.5,429.5 L2072.2,430.9 L2074.0,432.3 L2075.7,433.7 L2077.5,435.0 L2079.4,436.3 L2081.2,437.5 L2083.1,438.7 L2085.0,439.9 L2086.9,440.9 L2088.9,442.0 L2090.9,442.9 L2093.0,443.8 L2095.1,444.6 L2097.2,445.4 L2099.4,446.1 L2101.6,446.7 L2103.9,447.2 L2106.2,447.6 L2108.5,447.9 L2110.8,448.2 L2113.2,448.4 L2115.5,448.5 L2117.9,448.5 L2120.2,448.4 L2122.4,448.3 L2124.7,448.1 L2126.9,447.8 L2129.1,447.5 L2131.2,447.1 L2133.4,446.6 L2135.5,446.0 L2137.5,445.4 L2139.6,444.7 L2141.6,444.0 L2143.6,443.2 L2145.5,442.3 L2147.4,441.4 L2149.3,440.4 L2151.2,439.4 L2153.1,438.3 L2154.9,437.2 L2156.7,436.0 L2158.5,434.8 L2160.3,433.5 L2162.0,432.2 L2163.8,430.9 L2165.5,429.5 L2167.2,428.1 L2168.8,426.6 L2170.5,425.1 L2172.1,423.6 L2173.7,422.0 L2175.3,420.4 L2176.9,418.8 L2178.5,417.2 L2180.0,415.5 L2181.5,413.8 L2183.1,412.1 L2184.6,410.4 L2186.1,408.6 L2187.6,406.9 L2189.0,405.1 L2190.5,403.3 L2191.9,401.5 L2193.4,399.7 L2194.8,397.9 L2196.2,396.1 L2197.7,394.3 L2199.1,392.5 L2200.5,390.6 L2201.9,388.8 L2203.3,387.0 L2204.6,385.2 L2206.0,383.4 L2207.4,381.5 L2208.8,379.7 L2210.1,377.9 L2211.5,376.1 L2212.8,374.3 L2214.2,372.5 L2215.5,370.7 L2216.8,368.8 L2218.2,367.0 L2219.5,365.2 L2220.8,363.4 L2222.1,361.6 L2223.4,359.8 L2224.7,358.0 L2226.0,356.2 L2227.3,354.4 L2228.6,352.5 L2229.9,350.7 L2231.2,348.9 L2232.5,347.1 L2233.7,345.3 L2235.0,343.5 L2236.3,341.7 L2237.5,339.9 L2238.8,338.0 L2240.1,336.2 L2241.3,334.4 L2242.6,332.6 L2243.8,330.8 L2245.1,329.0 L2246.3,327.1 L2247.5,325.3 L2248.8,323.5 L2250.0,321.7 L2251.3,319.9 L2252.5,318.0 L2253.7,316.2 L2255.0,314.4 L2256.2,312.5 L2257.4,310.7 L2258.7,308.9 L2259.9,307.1 L2261.1,305.2 L2262.3,303.4 L2263.6,301.5 L2264.8,299.7 L2266.0,297.9 L2267.2,296.0 L2268.4,294.2 L2269.7,292.3 L2270.9,290.5 L2272.1,288.6 L2273.3,286.8 L2274.5,284.9 L2275.8,283.1 L2277.0,281.2 L2278.2,279.3 L2279.4,277.5 L2280.7,275.6 L2281.9,273.7 L2283.1,271.9 L2284.3,270.0 L2285.6,268.1 L2286.8,266.2 L2288.0,264.3 L2289.3,262.5 L2290.5,260.6 L2291.7,258.7 L2293.0,256.8 L2294.2,254.9 L2295.5,253.1 L2296.7,251.2 L2298.0,249.3 L2299.3,247.4 L2300.5,245.6 L2301.8,243.7 L2303.1,241.8 L2304.4,240.0 L2305.7,238.1 L2307.0,236.3 L2308.3,234.5 L2309.6,232.6 L2311.0,230.8 L2312.3,229.0 L2313.7,227.2 L2315.0,225.4 L2316.4,223.6 L2317.8,221.8 L2319.2,220.0 L2320.6,218.3 L2322.0,216.5 L2323.4,214.8 L2324.8,213.1 L2326.3,211.4 L2327.7,209.7 L2329.2,208.0 L2330.7,206.3 L2332.2,204.7 L2333.7,203.0 L2335.2,201.4 L2336.8,199.8 L2338.3,198.2 L2339.9,196.6 L2341.5,195.1 L2343.1,193.6 L2344.7,192.0 L2346.4,190.5 L2348.0,189.1 L2349.7,187.6 L2351.4,186.2 L2353.1,184.8 L2354.9,183.4 L2356.6,182.0 L2358.4,180.6 L2360.2,179.3"/>
<path stroke="#ff00ff" d="M300.0,162.5 L301.8,163.9 L303.7,165.3 L305.5,166.7 L307.3,168.2 L309.1,169.6 L310.9,171.0 L312.7,172.5 L314.6,173.9 L316.4,175.4 L318.2,176.8 L320.0,178.3 L321.8,179.8 L323.6,181.2 L325.4,182.7 L327.2,184.2 L329.0,185.6 L330.8,187.1 L332.6,188.6 L334.4,190.0 L336.2,191.5 L338.1,192.9 L339.9,194.4 L341.7,195.8 L343.5,197.3 L345.3,198.7 L347.1,200.1 L348.9,201.6 L350.7,203.0 L352.5,204.4 L354.4,205.7 L356.2,207.1 L358.0,208.5 L359.8,209.9 L361.6,211.2 L363.5,212.6 L365.3,213.9 L367.2,215.3 L369.0,216.6 L370.9,218.0 L372.7,219.3 L374.6,220.7 L376.5,222.0 L378.4,223.4 L380.3,224.8 L382.2,226.2 L384.2,227.6 L386.1,229.0 L388.1,230.4 L390.0,231.9 L392.0,233.3 L394.0,234.7 L396.0,236.1 L398.1,237.4 L400.1,238.7 L402.2,239.8 L404.3,240.9 L406.4,241.9 L408.5,242.7 L410.7,243.4 L412.8,243.9 L415.0,244.2 L417.2,244.4 L419.5,244.3 L421.7,244.1 L423.9,243.7 L426.2,243.2 L428.4,242.6 L430.7,241.8 L432.9,241.0 L435.2,240.0 L437.4,239.1 L439.5,238.0 L441.7,237.0 L443.8,235.9 L445.9,234.7 L448.0,233.6 L450.0,232.4 L452.0,231.2 L454.0,230.0 L456.0,228.7 L457.9,227.4 L459.9,226.1 L461.8,224.8 L463.6,223.4 L465.5,222.1 L467.3,220.7 L469.2,219.3 L471.0,217.8 L472.8,216.4 L474.5,214.9 L476.3,213.5 L478.1,212.0 L479.8,210.5 L481.5,208.9 L483.2,207.4 L484.9,205.8 L486.6,204.3 L488.3,202.7 L490.0,201.1 L491.7,199.5 L493.3,197.9 L495.0,196.3 L496.6,194.7 L498.3,193.1 L499.9,191.5 L501.6,189.9 L503.2,188.2 L504.9,186.6 L506.5,184.9 L508.1,183.3 L509.8,181.7 L511.4,180.0 L513.1,178.4 L514.8,176.7 L516.4,175.1 L518.1,173.5 L519.8,171.8 L521.4,170.2 L523.1,168.6 L524.8,167.0 L526.5,165.4 L528.3,163.8 L530.0,162.2 L531.7,160.6 L533.5,159.1 L535.2,157.5 L537.0,156.0 L538.7,154.4 L540.5,152.9 L542.3,151.4 L544.1,150.0 L545.9,148.5 L547.8,147.1 L549.6,145.6 L551.5,144.2 L553.3,142.8 L555.2,141.5 L557.1,140.2 L559.0,138.8 L561.0,137.6 L562.9,136.3 L564.8,135.1 L566.8,133.9 L568.8,132.7 L570.8,131.5 L572.8,130.4 L574.9,129.3 L576.9,128.3 L579.0,127.3 L581.1,126.3 L583.2,125.3 L585.3,124.4 L587.4,123.5 L589.6,122.7 L591.8,121.9 L593.9,121.1 L596.1,120.4 L598.4,119.7 L600.6,119.0 L602.8,118.4 L605.0,117.8 L607.3,117.3 L609.6,116.7 L611.8,116.3 L614.1,115.8 L616.4,115.4 L618.7,115.1 L621.0,114.8 L623.3,114.5 L625.6,114.3 L627.9,114.1 L630.2,113.9 L632.5,113.8 L634.8,113.7 L637.1,113.7 L639.4,113.7 L641.7,113.7 L644.0,113.8 L646.3,114.0 L648.5,114.1 L650.8,114.3 L653.1,114.6 L655.4,114.9 L657.7,115.3 L659.9,115.6 L662.2,116.1 L664.4,116.5 L666.7,117.0 L668.9,117.5 L671.2,118.1 L673.4,118.6 L675.6,119.2 L677.8,119.9 L680.1,120.5 L682.3,121.2 L684.5,121.9 L686.7,122.6 L688.9,123.4 L691.1,124.2 L693.4,124.9 L695.6,125.7 L697.8,126.5 L700.0,127.4 L702.2,128.2 L704.4,129.0 L706.6,129.9 L708.7,130.7 L710.9,131.6 L713.1,132.5 L715.3,133.3 L717.5,134.2 L719.7,135.1 L721.9,135.9 L724.1,136.8 L726.3,137.7 L728.5,138.5 L730.6,139.4 L732.8,140.2 L735.0,141.0 L737.2,141.8 L739.4,142.6 L741.6,143.4 L743.8,144.2 L746.0,145.0 L748.2,145.7 L750.4,146.5 L752.6,147.2 L754.8,148.0 L757.0,148.7 L759.2,149.4 L761.3,150.1 L763.5,150.9 L765.7,151.6 L767.9,152.3 L770.1,153.1 L772.3,153.8 L774.5,154.5 L776.6,155.3 L778.8,156.0 L781.0,156.8 L783.2,157.6 L785.3,158.4 L787.5,159.1 L789.7,159.9 L791.8,160.8 L794.0,161.6 L796.1,162.4 L798.3,163.3 L800.4,164.1 L802.6,165.0 L804.7,165.8 L806.9,166.7 L809.0,167.6 L811.1,168.5 L813.3,169.4 L815.4,170.3 L817.5,171.3 L819.6,172.2 L821.7,173.1 L823.8,174.1 L825.9,175.1 L828.0,176.0 L830.1,177.0 L832.2,178.0 L834.3,179.0 L836.4,180.0 L838.5,181.1 L840.6,182.1 L842.6,183.1 L844.7,184.2 L846.8,185.3 L848.8,186.3 L850.9,187.4 L852.9,188.5 L855.0,189.6 L857.0,190.7 L859.0,191.8 L861.1,192.9 L863.1,194.1 L865.1,195.2 L867.1,196.4 L869.1,197.5 L871.1,198.7 L873.1,199.9 L875.1,201.1 L877.1,202.3 L879.1,203.5 L881.1,204.7 L883.0,205.9 L885.0,207.2 L886.9,208.4 L888.9,209.7 L890.9,210.9 L892.8,212.2 L894.7,213.5 L896.7,214.8 L898.6,216.1 L900.5,217.4 L902.4,218.7 L904.3,220.0 L906.2,221.3 L908.1,222.7 L910.0,224.0 L911.9,225.4 L913.7,226.8 L915.6,228.1 L917.5,229.5 L919.3,230.9 L921.2,232.3 L923.0,233.7 L924.8,235.1 L926.7,236.6 L928.5,238.0 L930.3,239.5 L932.1,240.9 L933.9,242.4 L935.7,243.8 L937.5,245.3 L939.3,246.8 L941.0,248.3 L942.8,249.8 L944.6,251.3 L946.3,252.8 L948.0,254.4 L949.8,255.9 L951.5,257.4 L953.2,259.0 L954.9,260.6 L956.6,262.1 L958.3,263.7 L960.0,265.3 L961.7,266.9 L963.3,268.5 L965.0,270.1 L966.7,271.7 L968.3,273.3 L969.9,275.0 L971.6,276.6 L973.2,278.3 L974.8,279.9 L976.4,281.6 L978.0,283.3 L979.6,285.0 L981.2,286.7 L982.7,288.4 L984.3,290.1 L985.8,291.8 L987.4,293.5 L988.9,295.2 L990.4,297.0 L991.9,298.7 L993.4,300.5 L994.9,302.2 L996.4,304.0 L997.9,305.8 L999.4,307.6 L1000.8,309.3 L1002.3,311.1 L1003.7,313.0 L1005.1,314.8 L1006.6,316.6 L1008.0,318.4 L1009.4,320.3 L1010.8,322.1 L1012.1,324.0 L1013.5,325.8 L1014.9,327.7 L1016.2,329.6 L1017.6,331.4 L1018.9,333.3 L1020.2,335.2 L1021.5,337.1 L1022.8,339.0 L1024.1,341.0 L1025.4,342.9 L1026.7,344.8 L1027.9,346.8 L1029.2,348.7 L1030.4,350.6 L1031.7,352.6 L1032.9,354.6 L1034.1,356.5 L1035.3,358.5 L1036.5,360.5 L1037.7,362.5 L1038.9,364.5 L1040.1,366.5 L1041.3,368.5 L1042.4,370.5 L1043.6,372.5 L1044.7,374.5 L1045.8,376.5 L1047.0,378.6 L1048.1,380.6 L1049.2,382.6 L1050.3,384.7 L1051.4,386.7 L1052.5,388.8 L1053.6,390.8 L1054.7,392.9 L1055.7,395.0 L1056.8,397.0 L1057.9,399.1 L1058.9,401.2 L1060.0,403.2 L1061.0,405.3 L1062.0,407.4 L1063.1,409.5 L1064.1,411.6 L1065.1,413.7 L1066.1,415.8 L1067.1,417.9 L1068.1,420.0 L1069.1,422.1 L1070.1,424.2 L1071.1,426.3 L1072.0,428.4 L1073.0,430.6 L1074.0,432.7 L1074.9,434.8 L1075.9,436.9 L1076.8,439.0 L1077.8,441.2 L1078.7,443.3 L1079.7,445.4 L1080.6,447.6 L1081.5,449.7 L1082.4,451.8 L1083.4,454.0 L1084.3,456.1 L1085.2,458.2 L1086.1,460.4 L1087.0,462.5 L1087.9,464.7 L1088.8,466.8 L1089.7,469.0 L1090.6,471.1 L1091.4,473.3 L1092.3,475.4 L1093.2,477.6 L1094.0,479.7 L1094.9,481.9 L1095.8,484.0 L1096.6,486.2 L1097.5,488.3 L1098.3,490.5 L1099.2,492.7 L1100.0,494.8 L1100.9,497.0 L1101.7,499.2 L1102.5,501.3 L1103.4,503.5 L1104.2,505.7 L1105.0,507.8 L1105.8,510.0 L1106.6,512.2 L1107.4,514.4 L1108.2,516.5 L1109.0,518.7 L1109.9,520.9 L1110.6,523.1 L1111.4,525.2 L1112.2,527.4 L1113.0,529.6 L1113.8,531.8 L1114.6,534.0 L1115.4,536.2 L1116.2,538.3 L1116.9,540.5 L1117.7,542.7 L1118.5,544.9 L1119.2,547.1 L1120.0,549.3 L1120.8,551.5 L1121.5,553.7 L1122.3,555.8 L1123.0,558.0 L1123.8,560.2 L1124.5,562.4 L1125.3,564.6 L1126.0,566.8 L1126.8,569.0 L1127.5,571.2 L1128.2,573.4 L1129.0,575.6 L1129.7,577.8 L1130.4,580.0 L1131.2,582.2 L1131.9,584.4 L1132.6,586.6 L1133.3,588.8 L1134.1,591.0 L1134.8,593.2 L1135.5,595.4 L1136.2,597.6 L1136.9,599.8 L1137.7,602.0 L1138.4,604.2 L1139.1,606.4 L1139.8,608.6 L1140.5,610.8 L1141.2,613.0 L1141.9,615.2 L1142.6,617.4 L1143.3,619.6 L1144.0,621.8 L1144.7,624.0 L1145.4,626.2 L1146.1,628.4 L1146.8,630.6 L1147.5,632.8 L1148.2,635.0 L1148.9,637.2 L1149.6,639.4 L1150.3,641.6 L1151.0,643.8 L1151.6,646.0 L1152.3,648.2 L1153.0,650.4 L1153.7,652.6 L1154.4,654.8 L1155.1,657.0 L1155.8,659.2 L1156.5,661.4 L1157.1,663.6 L1157.8,665.8 L1158.5,668.0 L1159.2,670.2 L1159.9,672.4 L1160.6,674.6 L1161.2,676.8 L1161.9,679.0 L1162.6,681.2 L1163.3,683.4 L1164.0,685.6 L1164.7,687.8 L1165.4,690.0 L1166.0,692.2 L1166.7,694.4 L1167.4,696.5 L1168.1,698.7 L1168.8,700.9 L1169.5,703.1 L1170.1,705.3 L1170.8,707.5 L1171.5,709.7 L1172.2,711.9 L1172.9,714.1 L1173.6,716.3 L1174.3,718.5 L1175.0,720.7 L1175.7,722.9 L1176.4,725.1 L1177.1,727.3 L1177.8,729.5 L1178.4,731.7 L1179.1,733.9 L1179.8,736.1 L1180.5,738.3 L1181.2,740.5 L1181.9,742.7 L1182.7,744.9 L1183.4,747.1 L1184.1,749.3 L1184.8,751.5 L1185.5,753.7 L1186.2,755.9 L1186.9,758.1 L1187.6,760.3 L1188.3,762.5 L1189.1,764.7 L1189.8,766.9 L1190.5,769.1 L1191.2,771.3 L1192.0,773.5 L1192.7,775.7 L1193.4,777.9 L1194.1,780.1 L1194.9,782.3 L1195.6,784.5 L1196.4,786.7 L1197.1,788.9 L1197.8,791.1 L1198.6,793.3 L1199.3,795.5 L1200.1,797.7 L1200.8,799.9 L1201.6,802.1 L1202.4,804.3 L1203.1,806.5 L1203.9,808.7 L1204.7,810.9 L1205.4,813.1 L1206.2,815.3 L1207.0,817.5 L1207.8,819.8 L1208.5,822.0 L1209.3,824.2 L1210.1,826.4 L1210.9,828.6 L1211.7,830.8 L1212.5,833.0 L1213.3,835.2 L1214.1,837.4 L1214.9,839.6 L1215.7,841.8 L1216.5,844.0 L1217.4,846.2 L1218.2,848.4 L1219.0,850.6 L1219.8,852.8 L1220.7,855.0 L1221.5,857.2 L1222.4,859.4 L1223.2,861.6 L1224.1,863.8 L1224.9,866.0 L1225.8,868.2 L1226.7,870.4 L1227.7,872.5 L1228.6,874.7 L1229.6,876.8 L1230.6,878.9 L1231.6,881.0 L1232.6,883.1 L1233.7,885.2 L1234.8,887.2 L1235.9,889.2 L1237.1,891.2 L1238.3,893.1 L1239.5,895.1 L1240.8,897.0 L1242.1,898.8 L1243.5,900.7 L1244.9,902.5 L1246.3,904.2 L1247.8,906.0 L1249.4,907.6 L1251.0,909.3 L1252.6,910.9 L1254.4,912.4 L1256.1,914.0 L1258.0,915.4 L1259.9,916.8 L1261.8,918.2 L1263.8,919.4 L1265.9,920.5 L1268.0,921.3 L1270.1,921.9 L1272.3,922.2 L1274.6,922.2 L1276.8,921.8 L1279.1,921.1 L1281.3,920.2 L1283.5,919.1 L1285.6,917.8 L1287.6,916.4 L1289.4,915.0 L1291.2,913.4 L1292.9,911.7 L1294.5,910.0 L1296.0,908.2 L1297.4,906.4 L1298.8,904.5 L1300.1,902.5 L1301.4,900.6 L1302.6,898.5 L1303.7,896.5 L1304.9,894.4 L1306.0,892.4 L1307.1,890.3 L1308.1,888.2 L1309.2,886.1 L1310.2,884.0 L1311.3,881.9 L1312.3,879.8 L1313.3,877.7 L1314.3,875.6 L1315.3,873.5 L1316.2,871.4 L1317.2,869.3 L1318.2,867.2 L1319.1,865.1 L1320.0,863.0 L1321.0,860.8 L1321.9,858.7 L1322.8,856.6 L1323.7,854.5 L1324.6,852.3 L1325.5,850.2 L1326.4,848.1 L1327.2,845.9 L1328.1,843.8 L1329.0,841.7 L1329.8,839.5 L1330.7,837.4 L1331.5,835.2 L1332.3,833.1 L1333.2,830.9 L1334.0,828.8 L1334.8,826.6 L1335.6,824.4 L1336.4,822.3 L1337.2,820.1 L1338.0,817.9 L1338.8,815.8 L1339.6,813.6 L1340.4,811.4 L1341.2,809.3 L1342.0,807.1 L1342.7,804.9 L1343.5,802.7 L1344.2,800.5 L1345.0,798.3 L1345.7,796.2 L1346.5,794.0 L1347.2,791.8 L1347.9,789.6 L1348.7,787.4 L1349.4,785.2 L1350.1,783.0 L1350.8,780.8 L1351.5,778.6 L1352.2,776.4 L1352.9,774.2 L1353.6,772.0 L1354.3,769.8 L1355.0,767.5 L1355.7,765.3 L1356.4,763.1 L1357.1,760.9 L1357.7,758.7 L1358.4,756.5 L1359.1,754.2 L1359.7,752.0 L1360.4,749.8 L1361.0,747.6 L1361.7,745.4 L1362.3,743.1 L1363.0,740.9 L1363.6,738.7 L1364.2,736.4 L1364.9,734.2 L1365.5,732.0 L1366.1,729.7 L1366.7,727.5 L1367.4,725.3 L1368.0,723.0 L1368.6,720.8 L1369.2,718.6 L1369.8,716.3 L1370.4,714.1 L1371.0,711.8 L1371.6,709.6 L1372.2,707.3 L1372.8,705.1 L1373.4,702.8 L1374.0,700.6 L1374.6,698.3 L1375.2,696.1 L1375.7,693.8 L1376.3,691.6 L1376.9,689.3 L1377.5,687.1 L1378.0,684.8 L1378.6,682.6 L1379.2,680.3 L1379.7,678.1 L1380.3,675.8 L1380.9,673.6 L1381.4,671.3 L1382.0,669.1 L1382.5,666.8 L1383.1,664.5 L1383.7,662.3 L1384.2,660.0 L1384.8,657.8 L1385.3,655.5 L1385.9,653.3 L1386.4,651.0 L1387.0,648.7 L1387.5,646.5 L1388.1,644.2 L1388.7,642.0 L1389.2,639.7 L1389.8,637.5 L1390.3,635.2 L1390.9,633.0 L1391.5,630.7 L1392.0,628.5 L1392.6,626.2 L1393.2,624.0 L1393.8,621.7 L1394.3,619.5 L1394.9,617.2 L1395.5,615.0 L1396.1,612.7 L1396.7,610.5 L1397.3,608.3 L1397.9,606.0 L1398.5,603.8 L1399.1,601.6 L1399.7,599.3 L1400.3,597.1 L1401.0,594.9 L1401.6,592.7 L1402.2,590.4 L1402.9,588.2 L1403.5,586.0 L1404.2,583.8 L1404.8,581.6 L1405.5,579.4 L1406.2,577.1 L1406.8,574.9 L1407.5,572.7 L1408.2,570.5 L1408.9,568.3 L1409.6,566.1 L1410.3,564.0 L1411.0,561.8 L1411.8,559.6 L1412.5,557.4 L1413.3,555.2 L1414.0,553.0 L1414.8,550.9 L1415.5,548.7 L1416.3,546.5 L1417.1,544.4 L1417.9,542.2 L1418.7,540.1 L1419.5,537.9 L1420.3,535.8 L1421.1,533.6 L1422.0,531.5 L1422.8,529.3 L1423.6,527.1 L1424.4,525.0 L1425.2,522.8 L1426.1,520.7 L1426.9,518.5 L1427.7,516.4 L1428.5,514.2 L1429.3,512.0 L1430.1,509.9 L1430.9,507.7 L1431.6,505.5 L1432.4,503.3 L1433.1,501.1 L1433.9,498.9 L1434.6,496.7 L1435.3,494.5 L1436.0,492.3 L1436.7,490.1 L1437.4,487.8 L1438.1,485.6 L1438.8,483.4 L1439.4,481.1 L1440.1,478.9 L1440.7,476.6 L1441.3,474.4 L1442.0,472.1 L1442.6,469.9 L1443.2,467.6 L1443.8,465.3 L1444.4,463.1 L1445.0,460.8 L1445.6,458.5 L1446.2,456.3 L1446.8,454.0 L1447.4,451.7 L1448.1,449.4 L1448.7,447.2 L1449.3,444.9 L1449.9,442.6 L1450.5,440.4 L1451.1,438.1 L1451.7,435.8 L1452.3,433.6 L1452.9,431.3 L1453.6,429.1 L1454.2,426.8 L1454.8,424.6 L1455.5,422.3 L1456.1,420.1 L1456.8,417.9 L1457.5,415.6 L1458.2,413.4 L1458.9,411.2 L1459.6,409.0 L1460.3,406.8 L1461.0,404.6 L1461.8,402.4 L1462.5,400.2 L1463.3,398.0 L1464.1,395.9 L1464.9,393.7 L1465.7,391.6 L1466.5,389.4 L1467.4,387.3 L1468.2,385.2 L1469.1,383.1 L1470.0,381.0 L1471.0,378.9 L1471.9,376.8 L1472.9,374.7 L1473.9,372.7 L1474.9,370.6 L1475.9,368.6 L1477.0,366.6 L1478.0,364.6 L1479.1,362.6 L1480.3,360.6 L1481.4,358.7 L1482.6,356.7 L1483.8,354.8 L1485.1,352.9 L1486.3,351.0 L1487.6,349.1 L1488.9,347.2 L1490.3,345.4 L1491.7,343.5 L1493.1,341.7 L1494.5,339.9 L1495.9,338.1 L1497.4,336.3 L1498.9,334.5 L1500.4,332.7 L1501.9,330.9 L1503.4,329.2 L1504.9,327.4 L1506.5,325.7 L1508.1,324.0 L1509.6,322.2 L1511.2,320.5 L1512.8,318.8 L1514.4,317.1 L1516.0,315.4 L1517.7,313.7 L1519.3,312.0 L1520.9,310.3 L1522.5,308.6 L1524.2,306.9 L1525.8,305.2 L1527.4,303.5 L1529.0,301.8 L1530.7,300.1 L1532.3,298.4 L1534.0,296.8 L1535.7,295.2 L1537.4,293.7 L1539.2,292.2 L1541.0,290.8 L1542.8,289.4 L1544.8,288.2 L1546.7,287.0 L1548.7,285.9 L1550.8,284.8 L1552.8,283.8 L1554.9,282.9 L1557.1,282.1 L1559.3,281.3 L1561.5,280.5 L1563.7,279.9 L1565.9,279.2 L1568.2,278.7 L1570.5,278.2 L1572.8,277.7 L1575.1,277.3 L1577.4,277.0 L1579.7,276.7 L1582.1,276.5 L1584.4,276.3 L1586.7,276.1 L1589.0,276.0 L1591.4,275.9 L1593.7,275.9 L1596.0,275.9 L1598.3,276.0 L1600.6,276.1 L1602.9,276.3 L1605.2,276.4 L1607.4,276.7 L1609.7,276.9 L1611.9,277.2 L1614.2,277.5 L1616.4,277.9 L1618.7,278.3 L1620.9,278.7 L1623.2,279.2 L1625.4,279.7 L1627.6,280.2 L1629.8,280.8 L1632.0,281.4 L1634.3,282.0 L1636.5,282.6 L1638.7,283.3 L1640.9,284.0 L1643.1,284.8 L1645.3,285.5 L1647.5,286.3 L1649.7,287.1 L1651.9,287.9 L1654.1,288.8 L1656.3,289.6 L1658.5,290.5 L1660.7,291.4 L1662.9,292.3 L1665.1,293.2 L1667.3,294.1 L1669.5,295.0 L1671.7,295.9 L1673.9,296.8 L1676.1,297.7 L1678.3,298.5 L1680.5,299.4 L1682.7,300.2 L1684.9,301.0 L1687.1,301.8 L1689.3,302.6 L1691.5,303.3 L1693.7,304.0 L1695.9,304.7 L1698.2,305.4 L1700.4,305.9 L1702.6,306.5 L1704.8,307.0 L1707.0,307.4 L1709.3,307.9 L1711.5,308.2 L1713.7,308.5 L1716.0,308.8 L1718.2,309.0 L1720.5,309.2 L1722.7,309.4 L1725.0,309.5 L1727.2,309.6 L1729.5,309.6 L1731.7,309.6 L1734.0,309.6 L1736.3,309.5 L1738.5,309.4 L1740.8,309.3 L1743.1,309.2 L1745.4,309.0 L1747.7,308.8 L1750.0,308.6 L1752.3,308.3 L1754.6,308.0 L1756.9,307.7 L1759.2,307.4 L1761.5,307.1 L1763.8,306.8 L1766.1,306.4 L1768.4,306.0 L1770.8,305.7 L1773.1,305.3 L1775.4,304.9 L1777.8,304.5 L1780.1,304.0 L1782.4,303.6 L1784.8,303.2 L1787.1,302.8 L1789.5,302.4 L1791.8,301.9 L1794.1,301.5 L1796.5,301.1 L1798.8,300.7 L1801.2,300.3 L1803.5,299.9 L1805.8,299.6 L1808.2,299.2 L1810.5,298.9 L1812.8,298.5 L1815.2,298.2 L1817.5,297.9 L1819.8,297.7 L1822.1,297.4 L1824.5,297.2 L1826.8,297.0 L1829.1,296.8 L1831.4,296.7 L1833.7,296.6 L1836.0,296.5 L1838.2,296.4 L1840.5,296.4 L1842.8,296.4 L1845.1,296.5 L1847.3,296.6 L1849.6,296.7 L1851.8,296.9 L1854.0,297.1 L1856.3,297.4 L1858.5,297.7 L1860.7,298.1 L1862.9,298.5 L1865.1,299.0 L1867.3,299.5 L1869.4,300.1 L1871.6,300.7 L1873.8,301.4 L1875.9,302.1 L1878.0,302.8 L1880.1,303.6 L1882.3,304.5 L1884.4,305.4 L1886.4,306.3 L1888.5,307.3 L1890.6,308.3 L1892.6,309.3 L1894.7,310.4 L1896.7,311.6 L1898.7,312.7 L1900.7,313.9 L1902.7,315.1 L1904.7,316.4 L1906.7,317.7 L1908.7,319.0 L1910.6,320.3 L1912.5,321.7 L1914.5,323.1 L1916.4,324.5 L1918.3,325.9 L1920.2,327.4 L1922.0,328.9 L1923.9,330.4 L1925.7,331.9 L1927.6,333.4 L1929.4,335.0 L1931.2,336.6 L1933.0,338.1 L1934.8,339.7 L1936.5,341.4 L1938.3,343.0 L1940.0,344.6 L1941.7,346.2 L1943.4,347.9 L1945.1,349.5 L1946.8,351.2 L1948.4,352.8 L1950.1,354.5 L1951.7,356.2 L1953.3,357.8 L1954.9,359.5 L1956.5,361.2 L1958.1,362.8 L1959.7,364.5 L1961.2,366.2 L1962.8,367.9 L1964.3,369.5 L1965.8,371.2 L1967.4,372.9 L1968.9,374.6 L1970.4,376.3 L1971.9,377.9 L1973.4,379.6 L1974.9,381.3 L1976.4,383.0 L1977.9,384.7 L1979.4,386.3 L1980.9,388.0 L1982.5,389.7 L1984.0,391.4 L1985.5,393.1 L1987.0,394.8 L1988.5,396.5 L1990.1,398.1 L1991.6,399.8 L1993.1,401.5 L1994.7,403.2 L1996.3,404.9 L1997.8,406.5 L1999.4,408.2 L2001.0,409.9 L2002.7,411.6 L2004.3,413.3 L2005.9,414.9 L2007.6,416.6 L2009.3,418.3 L2010.9,419.9 L2012.6,421.6 L2014.4,423.2 L2016.1,424.8 L2017.8,426.4 L2019.6,428.0 L2021.4,429.6 L2023.2,431.2 L2025.0,432.7 L2026.8,434.2 L2028.7,435.7 L2030.5,437.1 L2032.4,438.5 L2034.3,439.9 L2036.2,441.3 L2038.2,442.6 L2040.1,443.9 L2042.1,445.1 L2044.1,446.3 L2046.1,447.4 L2048.1,448.5 L2050.1,449.6 L2052.2,450.5 L2054.3,451.5 L2056.4,452.3 L2058.5,453.1 L2060.6,453.9 L2062.8,454.5 L2065.0,455.1 L2067.2,455.7 L2069.4,456.1 L2071.7,456.5 L2074.0,456.8 L2076.3,457.0 L2078.6,457.1 L2081.0,457.1 L2083.3,457.1 L2085.7,456.9 L2088.1,456.7 L2090.5,456.4 L2092.9,456.0 L2095.2,455.5 L2097.6,454.9 L2099.9,454.3 L2102.1,453.6 L2104.3,452.8 L2106.5,451.9 L2108.6,451.0 L2110.7,450.0 L2112.7,449.0 L2114.7,447.8 L2116.6,446.7 L2118.6,445.5 L2120.5,444.2 L2122.3,442.9 L2124.1,441.5 L2125.9,440.1 L2127.7,438.7 L2129.5,437.2 L2131.2,435.7 L2132.9,434.1 L2134.6,432.5 L2136.2,430.9 L2137.9,429.3 L2139.5,427.7 L2141.1,426.0 L2142.7,424.3 L2144.3,422.6 L2145.9,420.9 L2147.5,419.2 L2149.1,417.5 L2150.6,415.8 L2152.2,414.1 L2153.7,412.4 L2155.3,410.6 L2156.8,408.9 L2158.4,407.2 L2159.9,405.4 L2161.4,403.7 L2162.9,401.9 L2164.5,400.2 L2166.0,398.4 L2167.5,396.7 L2169.0,394.9 L2170.5,393.1 L2171.9,391.3 L2173.4,389.6 L2174.9,387.8 L2176.4,386.0 L2177.8,384.2 L2179.3,382.4 L2180.7,380.6 L2182.2,378.8 L2183.6,377.0 L2185.1,375.1 L2186.5,373.3 L2187.9,371.5 L2189.3,369.7 L2190.7,367.8 L2192.2,366.0 L2193.6,364.1 L2195.0,362.3 L2196.3,360.4 L2197.7,358.6 L2199.1,356.7 L2200.5,354.9 L2201.9,353.0 L2203.2,351.1 L2204.6,349.2 L2205.9,347.4 L2207.3,345.5 L2208.6,343.6 L2210.0,341.7 L2211.3,339.8 L2212.6,337.9 L2213.9,336.0 L2215.3,334.1 L2216.6,332.2 L2217.9,330.3 L2219.2,328.3 L2220.5,326.4 L2221.8,324.5 L2223.1,322.6 L2224.3,320.6 L2225.6,318.7 L2226.9,316.7 L2228.2,314.8 L2229.4,312.9 L2230.7,310.9 L2231.9,308.9 L2233.2,307.0 L2234.4,305.0 L2235.7,303.1 L2236.9,301.1 L2238.1,299.1 L2239.4,297.2 L2240.6,295.2 L2241.8,293.2 L2243.1,291.2 L2244.3,289.3 L2245.5,287.3 L2246.7,285.3 L2247.9,283.3 L2249.2,281.4 L2250.4,279.4 L2251.6,277.4 L2252.8,275.4 L2254.0,273.4 L2255.2,271.5 L2256.5,269.5 L2257.7,267.5 L2258.9,265.5 L2260.1,263.6 L2261.3,261.6 L2262.6,259.6 L2263.8,257.7 L2265.0,255.7 L2266.3,253.7 L2267.5,251.8 L2268.7,249.8 L2270.0,247.8 L2271.2,245.9 L2272.5,243.9 L2273.7,242.0 L2275.0,240.1 L2276.3,238.1 L2277.5,236.2 L2278.8,234.3 L2280.1,232.3 L2281.4,230.4 L2282.7,228.5 L2284.0,226.6 L2285.3,224.7 L2286.6,222.8 L2287.9,220.9 L2289.2,219.0 L2290.5,217.1 L2291.9,215.2 L2293.2,213.4 L2294.6,211.5 L2296.0,209.7 L2297.3,207.8 L2298.7,206.0 L2300.1,204.1 L2301.5,202.3 L2302.9,200.5 L2304.3,198.7 L2305.8,196.9 L2307.2,195.1 L2308.7,193.3 L2310.1,191.5 L2311.6,189.7 L2313.1,188.0 L2314.6,186.2 L2316.1,184.5 L2317.6,182.8 L2319.2,181.1 L2320.7,179.3 L2322.3,177.6 L2323.8,176.0 L2325.4,174.3 L2327.0,172.6 L2328.7,171.0 L2330.3,169.3 L2331.9,167.7 L2333.6,166.1 L2335.3,164.5 L2337.0,162.9 L2338.7,161.3 L2340.4,159.7 L2342.1,158.1 L2343.9,156.6 L2345.7,155.1 L2347.4,153.5 L2349.2,152.0 L2351.1,150.5 L2352.9,149.1 L2354.8,147.6 L2356.6,146.2 L2358.5,144.7 L2360.5,143.3"/>
<path stroke="#008000" d="M300.0,143.5 L301.7,144.9 L303.4,146.4 L305.1,147.8 L306.8,149.2 L308.5,150.6 L310.2,152.0 L311.9,153.4 L313.6,154.7 L315.3,156.1 L317.1,157.5 L318.8,158.9 L320.5,160.3 L322.2,161.7 L324.0,163.1 L325.7,164.5 L327.4,165.9 L329.1,167.3 L330.8,168.7 L332.6,170.2 L334.3,171.6 L336.0,173.0 L337.7,174.4 L339.4,175.8 L341.1,177.3 L342.8,178.7 L344.4,180.1 L346.1,181.6 L347.8,183.0 L349.4,184.5 L351.1,186.0 L352.7,187.4 L354.3,188.9 L355.9,190.4 L357.5,191.9 L359.1,193.4 L360.7,194.9 L362.3,196.4 L363.9,197.9 L365.5,199.4 L367.1,200.9 L368.7,202.4 L370.3,203.9 L371.9,205.4 L373.6,206.9 L375.2,208.3 L376.9,209.8 L378.5,211.3 L380.2,212.7 L381.9,214.1 L383.7,215.6 L385.4,217.0 L387.2,218.3 L389.0,219.7 L390.8,221.1 L392.7,222.4 L394.6,223.7 L396.5,225.0 L398.4,226.2 L400.4,227.4 L402.4,228.6 L404.4,229.6 L406.4,230.7 L408.5,231.6 L410.5,232.5 L412.6,233.3 L414.7,234.0 L416.8,234.7 L418.9,235.2 L421.0,235.6 L423.2,235.9 L425.3,236.1 L427.4,236.1 L429.6,236.1 L431.7,235.9 L433.8,235.7 L435.9,235.3 L438.1,234.9 L440.2,234.4 L442.3,233.8 L444.4,233.1 L446.5,232.3 L448.6,231.5 L450.7,230.6 L452.8,229.7 L454.9,228.7 L456.9,227.6 L458.9,226.5 L461.0,225.4 L463.0,224.2 L464.9,223.0 L466.9,221.8 L468.8,220.6 L470.8,219.3 L472.7,218.0 L474.5,216.7 L476.4,215.4 L478.2,214.1 L480.0,212.8 L481.8,211.5 L483.5,210.2 L485.3,209.0 L487.0,207.7 L488.7,206.4 L490.4,205.1 L492.0,203.8 L493.7,202.5 L495.4,201.2 L497.1,199.9 L498.7,198.5 L500.4,197.2 L502.1,195.8 L503.8,194.4 L505.5,193.1 L507.2,191.7 L508.9,190.3 L510.6,188.9 L512.3,187.5 L514.1,186.0 L515.8,184.6 L517.5,183.2 L519.3,181.8 L521.0,180.4 L522.7,179.0 L524.5,177.6 L526.2,176.2 L528.0,174.8 L529.7,173.4 L531.5,172.0 L533.3,170.6 L535.0,169.2 L536.8,167.9 L538.6,166.5 L540.4,165.2 L542.2,163.9 L544.0,162.6 L545.8,161.3 L547.6,160.0 L549.4,158.8 L551.3,157.5 L553.1,156.3 L555.0,155.1 L556.8,153.9 L558.7,152.8 L560.6,151.6 L562.5,150.5 L564.4,149.4 L566.3,148.3 L568.2,147.3 L570.1,146.3 L572.1,145.3 L574.0,144.3 L576.0,143.4 L578.0,142.5 L580.0,141.6 L582.0,140.8 L584.0,140.0 L586.1,139.2 L588.1,138.5 L590.2,137.8 L592.3,137.1 L594.4,136.5 L596.5,135.9 L598.7,135.3 L600.8,134.8 L603.0,134.3 L605.2,133.9 L607.4,133.5 L609.6,133.1 L611.8,132.8 L614.0,132.5 L616.2,132.3 L618.5,132.1 L620.7,131.9 L623.0,131.8 L625.2,131.7 L627.5,131.6 L629.7,131.6 L632.0,131.6 L634.2,131.7 L636.5,131.8 L638.7,131.9 L641.0,132.1 L643.2,132.3 L645.4,132.5 L647.6,132.8 L649.8,133.1 L652.0,133.5 L654.2,133.9 L656.4,134.3 L658.6,134.7 L660.7,135.2 L662.8,135.7 L665.0,136.3 L667.1,136.8 L669.2,137.4 L671.3,138.0 L673.4,138.6 L675.5,139.3 L677.6,139.9 L679.7,140.6 L681.8,141.3 L683.9,142.0 L686.0,142.7 L688.0,143.5 L690.1,144.2 L692.2,144.9 L694.2,145.7 L696.3,146.4 L698.4,147.2 L700.5,147.9 L702.5,148.7 L704.6,149.4 L706.7,150.2 L708.7,150.9 L710.8,151.7 L712.9,152.5 L714.9,153.2 L717.0,154.0 L719.1,154.8 L721.1,155.5 L723.2,156.3 L725.3,157.1 L727.3,157.9 L729.4,158.7 L731.4,159.5 L733.5,160.3 L735.6,161.1 L737.6,161.9 L739.7,162.7 L741.7,163.5 L743.8,164.3 L745.8,165.1 L747.9,165.9 L749.9,166.8 L752.0,167.6 L754.0,168.4 L756.1,169.2 L758.1,170.1 L760.2,170.9 L762.2,171.8 L764.3,172.6 L766.3,173.5 L768.4,174.3 L770.4,175.2 L772.4,176.0 L774.5,176.9 L776.5,177.8 L778.6,178.6 L780.6,179.5 L782.6,180.4 L784.7,181.3 L786.7,182.1 L788.7,183.0 L790.7,183.9 L792.8,184.8 L794.8,185.7 L796.8,186.6 L798.8,187.5 L800.9,188.5 L802.9,189.4 L804.9,190.3 L806.9,191.2 L808.9,192.2 L810.9,193.1 L812.9,194.0 L814.9,195.0 L816.9,195.9 L818.9,196.9 L820.9,197.8 L822.9,198.8 L824.9,199.7 L826.9,200.7 L828.9,201.7 L830.9,202.7 L832.9,203.6 L834.9,204.6 L836.9,205.6 L838.9,206.6 L840.8,207.6 L842.8,208.6 L844.8,209.6 L846.8,210.6 L848.8,211.6 L850.7,212.7 L852.7,213.7 L854.7,214.7 L856.6,215.8 L858.6,216.8 L860.5,217.8 L862.5,218.9 L864.4,220.0 L866.4,221.0 L868.3,222.1 L870.3,223.1 L872.2,224.2 L874.2,225.3 L876.1,226.4 L878.0,227.5 L880.0,228.6 L881.9,229.7 L883.8,230.8 L885.7,231.9 L887.6,233.1 L889.5,234.2 L891.4,235.4 L893.3,236.5 L895.2,237.7 L897.0,238.9 L898.9,240.1 L900.8,241.3 L902.6,242.5 L904.4,243.7 L906.2,245.0 L908.1,246.2 L909.9,247.5 L911.6,248.8 L913.4,250.1 L915.2,251.4 L916.9,252.8 L918.7,254.1 L920.4,255.5 L922.1,256.9 L923.8,258.3 L925.4,259.7 L927.1,261.1 L928.7,262.6 L930.4,264.0 L932.0,265.5 L933.6,267.1 L935.2,268.6 L936.7,270.1 L938.3,271.7 L939.8,273.3 L941.3,274.9 L942.8,276.5 L944.3,278.2 L945.8,279.8 L947.3,281.5 L948.7,283.1 L950.2,284.8 L951.6,286.5 L953.0,288.2 L954.4,289.9 L955.8,291.7 L957.2,293.4 L958.6,295.2 L960.0,296.9 L961.4,298.7 L962.7,300.4 L964.1,302.2 L965.5,304.0 L966.8,305.8 L968.1,307.6 L969.5,309.3 L970.8,311.1 L972.1,312.9 L973.4,314.7 L974.8,316.5 L976.1,318.3 L977.4,320.1 L978.7,321.9 L980.0,323.7 L981.3,325.5 L982.6,327.3 L983.9,329.1 L985.3,330.9 L986.6,332.7 L987.9,334.5 L989.2,336.3 L990.5,338.0 L991.8,339.8 L993.1,341.6 L994.4,343.4 L995.7,345.1 L997.0,346.9 L998.3,348.7 L999.6,350.5 L1000.9,352.2 L1002.1,354.0 L1003.4,355.8 L1004.7,357.6 L1006.0,359.4 L1007.3,361.2 L1008.5,363.0 L1009.8,364.7 L1011.0,366.5 L1012.3,368.3 L1013.5,370.2 L1014.8,372.0 L1016.0,373.8 L1017.3,375.6 L1018.5,377.4 L1019.7,379.3 L1020.9,381.1 L1022.1,382.9 L1023.3,384.8 L1024.5,386.6 L1025.7,388.5 L1026.9,390.3 L1028.1,392.2 L1029.3,394.1 L1030.5,395.9 L1031.6,397.8 L1032.8,399.7 L1033.9,401.6 L1035.1,403.5 L1036.2,405.4 L1037.4,407.3 L1038.5,409.2 L1039.7,411.1 L1040.8,413.0 L1041.9,414.9 L1043.0,416.8 L1044.1,418.7 L1045.2,420.6 L1046.3,422.6 L1047.4,424.5 L1048.5,426.4 L1049.6,428.4 L1050.7,430.3 L1051.7,432.2 L1052.8,434.2 L1053.9,436.1 L1054.9,438.1 L1056.0,440.0 L1057.0,442.0 L1058.1,444.0 L1059.1,445.9 L1060.1,447.9 L1061.2,449.9 L1062.2,451.8 L1063.2,453.8 L1064.2,455.8 L1065.2,457.8 L1066.2,459.8 L1067.2,461.7 L1068.2,463.7 L1069.2,465.7 L1070.2,467.7 L1071.1,469.7 L1072.1,471.7 L1073.1,473.7 L1074.0,475.7 L1075.0,477.7 L1075.9,479.7 L1076.9,481.7 L1077.8,483.7 L1078.7,485.8 L1079.7,487.8 L1080.6,489.8 L1081.5,491.8 L1082.4,493.8 L1083.3,495.9 L1084.2,497.9 L1085.1,499.9 L1086.0,501.9 L1086.9,504.0 L1087.8,506.0 L1088.7,508.0 L1089.5,510.0 L1090.4,512.1 L1091.3,514.1 L1092.1,516.2 L1093.0,518.2 L1093.8,520.2 L1094.7,522.3 L1095.5,524.3 L1096.4,526.4 L1097.2,528.4 L1098.0,530.5 L1098.9,532.5 L1099.7,534.5 L1100.5,536.6 L1101.3,538.6 L1102.1,540.7 L1102.9,542.8 L1103.8,544.8 L1104.6,546.9 L1105.4,548.9 L1106.2,551.0 L1107.0,553.0 L1107.7,555.1 L1108.5,557.1 L1109.3,559.2 L1110.1,561.3 L1110.9,563.3 L1111.7,565.4 L1112.4,567.5 L1113.2,569.5 L1114.0,571.6 L1114.8,573.7 L1115.5,575.7 L1116.3,577.8 L1117.1,579.9 L1117.8,581.9 L1118.6,584.0 L1119.4,586.1 L1120.1,588.1 L1120.9,590.2 L1121.6,592.3 L1122.4,594.3 L1123.1,596.4 L1123.9,598.5 L1124.7,600.6 L1125.4,602.6 L1126.2,604.7 L1126.9,606.8 L1127.7,608.9 L1128.4,610.9 L1129.2,613.0 L1129.9,615.1 L1130.7,617.2 L1131.4,619.2 L1132.2,621.3 L1132.9,623.4 L1133.7,625.5 L1134.4,627.5 L1135.2,629.6 L1135.9,631.7 L1136.7,633.8 L1137.4,635.9 L1138.2,637.9 L1138.9,640.0 L1139.7,642.1 L1140.5,644.2 L1141.2,646.2 L1142.0,648.3 L1142.7,650.4 L1143.5,652.5 L1144.3,654.5 L1145.0,656.6 L1145.8,658.7 L1146.6,660.8 L1147.3,662.8 L1148.1,664.9 L1148.9,667.0 L1149.7,669.1 L1150.5,671.1 L1151.2,673.2 L1152.0,675.3 L1152.8,677.4 L1153.6,679.4 L1154.4,681.5 L1155.2,683.6 L1156.0,685.6 L1156.8,687.7 L1157.6,689.8 L1158.4,691.8 L1159.2,693.9 L1160.0,696.0 L1160.8,698.1 L1161.6,700.1 L1162.5,702.2 L1163.3,704.2 L1164.1,706.3 L1164.9,708.4 L1165.8,710.4 L1166.6,712.5 L1167.4,714.6 L1168.3,716.6 L1169.1,718.7 L1169.9,720.7 L1170.8,722.8 L1171.6,724.9 L1172.4,726.9 L1173.3,729.0 L1174.1,731.0 L1174.9,733.1 L1175.8,735.2 L1176.6,737.2 L1177.4,739.3 L1178.3,741.3 L1179.1,743.4 L1179.9,745.4 L1180.8,747.5 L1181.6,749.5 L1182.4,751.6 L1183.3,753.6 L1184.1,755.7 L1184.9,757.7 L1185.7,759.8 L1186.5,761.9 L1187.4,763.9 L1188.2,766.0 L1189.0,768.0 L1189.8,770.0 L1190.6,772.1 L1191.4,774.1 L1192.2,776.2 L1193.0,778.2 L1193.8,780.3 L1194.6,782.3 L1195.4,784.4 L1196.2,786.4 L1197.0,788.5 L1197.8,790.5 L1198.6,792.5 L1199.4,794.6 L1200.2,796.6 L1201.0,798.6 L1201.9,800.6 L1202.7,802.6 L1203.5,804.6 L1204.4,806.7 L1205.3,808.6 L1206.2,810.6 L1207.1,812.6 L1208.0,814.6 L1208.9,816.6 L1209.9,818.6 L1210.9,820.5 L1211.8,822.5 L1212.9,824.4 L1213.9,826.3 L1214.9,828.3 L1216.0,830.2 L1217.1,832.1 L1218.2,834.0 L1219.4,835.9 L1220.6,837.8 L1221.8,839.6 L1223.0,841.5 L1224.3,843.3 L1225.6,845.2 L1226.9,847.0 L1228.3,848.8 L1229.7,850.6 L1231.1,852.4 L1232.5,854.2 L1234.1,855.9 L1235.6,857.7 L1237.2,859.4 L1238.8,861.1 L1240.4,862.8 L1242.1,864.5 L1243.9,866.1 L1245.7,867.7 L1247.5,869.2 L1249.3,870.6 L1251.2,871.9 L1253.1,873.1 L1255.0,874.1 L1257.0,875.1 L1259.0,875.8 L1261.0,876.4 L1263.0,876.8 L1265.1,877.0 L1267.2,877.0 L1269.3,876.8 L1271.4,876.3 L1273.4,875.8 L1275.5,875.0 L1277.5,874.1 L1279.5,873.1 L1281.4,871.9 L1283.2,870.7 L1285.0,869.3 L1286.7,867.9 L1288.3,866.3 L1289.9,864.7 L1291.4,863.0 L1292.9,861.3 L1294.3,859.5 L1295.7,857.7 L1297.0,855.8 L1298.3,853.9 L1299.6,852.0 L1300.8,850.1 L1302.0,848.1 L1303.2,846.2 L1304.4,844.2 L1305.5,842.3 L1306.7,840.3 L1307.8,838.4 L1308.9,836.4 L1310.0,834.5 L1311.0,832.5 L1312.1,830.6 L1313.1,828.6 L1314.2,826.7 L1315.2,824.7 L1316.2,822.8 L1317.2,820.8 L1318.2,818.8 L1319.1,816.9 L1320.1,814.9 L1321.1,812.9 L1322.0,811.0 L1323.0,809.0 L1323.9,807.0 L1324.8,805.1 L1325.7,803.1 L1326.7,801.1 L1327.6,799.2 L1328.5,797.2 L1329.4,795.2 L1330.3,793.2 L1331.2,791.2 L1332.1,789.3 L1333.0,787.3 L1333.9,785.3 L1334.9,783.3 L1335.8,781.3 L1336.7,779.3 L1337.6,777.3 L1338.5,775.4 L1339.5,773.4 L1340.4,771.4 L1341.4,769.4 L1342.3,767.4 L1343.3,765.4 L1344.3,763.4 L1345.2,761.4 L1346.2,759.4 L1347.2,757.4 L1348.2,755.4 L1349.1,753.4 L1350.1,751.3 L1351.0,749.3 L1351.9,747.3 L1352.8,745.2 L1353.7,743.2 L1354.6,741.1 L1355.4,739.1 L1356.2,737.0 L1357.0,735.0 L1357.8,732.9 L1358.5,730.8 L1359.3,728.7 L1360.0,726.6 L1360.7,724.5 L1361.4,722.4 L1362.1,720.3 L1362.8,718.2 L1363.4,716.1 L1364.1,714.0 L1364.7,711.9 L1365.3,709.8 L1365.9,707.6 L1366.5,705.5 L1367.1,703.4 L1367.7,701.2 L1368.3,699.1 L1368.8,697.0 L1369.4,694.8 L1369.9,692.7 L1370.4,690.5 L1371.0,688.4 L1371.5,686.2 L1372.0,684.1 L1372.5,681.9 L1373.0,679.8 L1373.5,677.6 L1374.0,675.4 L1374.5,673.3 L1374.9,671.1 L1375.4,669.0 L1375.9,666.8 L1376.4,664.6 L1376.9,662.5 L1377.3,660.3 L1377.8,658.1 L1378.3,656.0 L1378.8,653.8 L1379.2,651.6 L1379.7,649.5 L1380.2,647.3 L1380.7,645.2 L1381.2,643.0 L1381.7,640.8 L1382.2,638.7 L1382.7,636.5 L1383.2,634.4 L1383.7,632.2 L1384.2,630.1 L1384.7,627.9 L1385.3,625.8 L1385.8,623.7 L1386.3,621.5 L1386.9,619.4 L1387.5,617.2 L1388.0,615.1 L1388.6,613.0 L1389.2,610.9 L1389.8,608.7 L1390.5,606.6 L1391.1,604.5 L1391.7,602.4 L1392.4,600.3 L1393.0,598.2 L1393.7,596.1 L1394.4,594.0 L1395.1,591.9 L1395.8,589.8 L1396.5,587.7 L1397.2,585.6 L1397.9,583.6 L1398.7,581.5 L1399.4,579.4 L1400.1,577.3 L1400.9,575.2 L1401.7,573.2 L1402.4,571.1 L1403.2,569.0 L1404.0,567.0 L1404.7,564.9 L1405.5,562.8 L1406.3,560.8 L1407.1,558.7 L1407.9,556.6 L1408.7,554.6 L1409.5,552.5 L1410.3,550.5 L1411.1,548.4 L1412.0,546.3 L1412.8,544.3 L1413.6,542.2 L1414.4,540.2 L1415.2,538.1 L1416.0,536.0 L1416.9,534.0 L1417.7,531.9 L1418.5,529.9 L1419.3,527.8 L1420.1,525.7 L1421.0,523.7 L1421.8,521.6 L1422.6,519.6 L1423.4,517.5 L1424.2,515.4 L1425.0,513.4 L1425.8,511.3 L1426.6,509.2 L1427.4,507.1 L1428.2,505.1 L1429.0,503.0 L1429.8,500.9 L1430.6,498.8 L1431.4,496.8 L1432.1,494.7 L1432.9,492.6 L1433.7,490.5 L1434.4,488.4 L1435.2,486.3 L1435.9,484.2 L1436.7,482.1 L1437.4,480.0 L1438.2,477.9 L1438.9,475.8 L1439.7,473.8 L1440.4,471.7 L1441.2,469.6 L1441.9,467.5 L1442.6,465.4 L1443.4,463.3 L1444.1,461.2 L1444.9,459.1 L1445.6,457.0 L1446.4,454.9 L1447.1,452.8 L1447.9,450.8 L1448.6,448.7 L1449.4,446.6 L1450.1,444.5 L1450.9,442.4 L1451.7,440.4 L1452.5,438.3 L1453.3,436.2 L1454.1,434.2 L1454.8,432.1 L1455.7,430.1 L1456.5,428.0 L1457.3,426.0 L1458.1,423.9 L1458.9,421.9 L1459.8,419.9 L1460.6,417.8 L1461.5,415.8 L1462.3,413.8 L1463.2,411.8 L1464.1,409.8 L1465.0,407.8 L1465.9,405.8 L1466.8,403.8 L1467.7,401.8 L1468.6,399.8 L1469.6,397.8 L1470.5,395.8 L1471.5,393.9 L1472.5,391.9 L1473.4,390.0 L1474.4,388.0 L1475.5,386.1 L1476.5,384.1 L1477.5,382.2 L1478.6,380.3 L1479.6,378.3 L1480.7,376.4 L1481.8,374.5 L1482.9,372.6 L1484.0,370.7 L1485.1,368.8 L1486.3,366.9 L1487.5,365.1 L1488.6,363.2 L1489.8,361.3 L1491.0,359.5 L1492.3,357.6 L1493.5,355.8 L1494.8,354.0 L1496.1,352.1 L1497.3,350.3 L1498.7,348.5 L1500.0,346.7 L1501.3,344.9 L1502.7,343.1 L1504.1,341.4 L1505.5,339.6 L1506.9,337.8 L1508.4,336.1 L1509.8,334.4 L1511.3,332.6 L1512.8,330.9 L1514.3,329.2 L1515.9,327.6 L1517.4,325.9 L1519.0,324.3 L1520.6,322.6 L1522.2,321.0 L1523.8,319.5 L1525.4,317.9 L1527.1,316.4 L1528.7,314.8 L1530.4,313.3 L1532.1,311.9 L1533.9,310.4 L1535.6,309.0 L1537.3,307.6 L1539.1,306.3 L1540.9,305.0 L1542.7,303.7 L1544.5,302.4 L1546.3,301.2 L1548.2,300.0 L1550.0,298.8 L1551.9,297.7 L1553.8,296.6 L1555.7,295.5 L1557.6,294.5 L1559.5,293.5 L1561.5,292.6 L1563.4,291.7 L1565.4,290.8 L1567.4,290.0 L1569.4,289.2 L1571.4,288.5 L1573.4,287.8 L1575.5,287.1 L1577.5,286.6 L1579.6,286.0 L1581.7,285.5 L1583.8,285.1 L1585.9,284.7 L1588.0,284.3 L1590.1,284.0 L1592.2,283.8 L1594.4,283.6 L1596.5,283.5 L1598.7,283.4 L1600.9,283.4 L1603.1,283.4 L1605.3,283.4 L1607.5,283.5 L1609.7,283.7 L1611.9,283.9 L1614.1,284.1 L1616.4,284.3 L1618.6,284.6 L1620.8,284.9 L1623.1,285.3 L1625.3,285.6 L1627.6,286.0 L1629.8,286.4 L1632.0,286.9 L1634.3,287.3 L1636.5,287.8 L1638.8,288.3 L1641.0,288.8 L1643.2,289.3 L1645.5,289.8 L1647.7,290.4 L1649.9,290.9 L1652.1,291.5 L1654.3,292.0 L1656.5,292.6 L1658.7,293.1 L1660.9,293.7 L1663.1,294.3 L1665.3,294.8 L1667.5,295.4 L1669.7,295.9 L1671.8,296.5 L1674.0,297.0 L1676.2,297.6 L1678.3,298.1 L1680.5,298.6 L1682.7,299.1 L1684.8,299.6 L1687.0,300.1 L1689.1,300.6 L1691.3,301.0 L1693.4,301.5 L1695.6,301.9 L1697.7,302.3 L1699.8,302.7 L1702.0,303.0 L1704.1,303.4 L1706.3,303.7 L1708.4,304.0 L1710.6,304.3 L1712.7,304.5 L1714.8,304.7 L1717.0,304.9 L1719.1,305.1 L1721.3,305.2 L1723.4,305.3 L1725.6,305.4 L1727.7,305.4 L1729.8,305.4 L1732.0,305.4 L1734.1,305.3 L1736.3,305.2 L1738.5,305.1 L1740.6,304.9 L1742.8,304.7 L1744.9,304.4 L1747.1,304.2 L1749.3,303.9 L1751.4,303.5 L1753.6,303.2 L1755.8,302.8 L1757.9,302.4 L1760.1,302.0 L1762.3,301.6 L1764.5,301.1 L1766.6,300.7 L1768.8,300.2 L1771.0,299.7 L1773.2,299.2 L1775.3,298.6 L1777.5,298.1 L1779.7,297.6 L1781.9,297.0 L1784.1,296.4 L1786.3,295.9 L1788.5,295.3 L1790.6,294.7 L1792.8,294.2 L1795.0,293.6 L1797.2,293.0 L1799.4,292.4 L1801.6,291.9 L1803.8,291.3 L1806.0,290.8 L1808.2,290.2 L1810.4,289.7 L1812.6,289.1 L1814.8,288.6 L1817.0,288.1 L1819.2,287.6 L1821.3,287.2 L1823.5,286.7 L1825.7,286.2 L1827.9,285.8 L1830.1,285.4 L1832.3,285.0 L1834.5,284.6 L1836.7,284.3 L1838.9,283.9 L1841.1,283.6 L1843.3,283.3 L1845.5,283.1 L1847.6,282.8 L1849.8,282.6 L1852.0,282.4 L1854.2,282.3 L1856.4,282.1 L1858.5,282.0 L1860.7,282.0 L1862.9,281.9 L1865.0,281.9 L1867.2,281.9 L1869.4,282.0 L1871.5,282.1 L1873.7,282.2 L1875.8,282.4 L1878.0,282.6 L1880.1,282.8 L1882.3,283.1 L1884.4,283.4 L1886.5,283.8 L1888.7,284.2 L1890.8,284.6 L1892.9,285.1 L1895.0,285.7 L1897.1,286.2 L1899.2,286.9 L1901.3,287.5 L1903.4,288.2 L1905.5,289.0 L1907.6,289.8 L1909.6,290.6 L1911.7,291.5 L1913.7,292.4 L1915.8,293.3 L1917.8,294.3 L1919.8,295.3 L1921.8,296.3 L1923.7,297.4 L1925.7,298.5 L1927.7,299.6 L1929.6,300.8 L1931.5,302.0 L1933.4,303.2 L1935.3,304.5 L1937.1,305.7 L1939.0,307.0 L1940.8,308.4 L1942.6,309.7 L1944.4,311.1 L1946.1,312.5 L1947.9,313.9 L1949.6,315.4 L1951.3,316.9 L1952.9,318.3 L1954.6,319.8 L1956.2,321.4 L1957.8,322.9 L1959.4,324.5 L1961.0,326.0 L1962.5,327.6 L1964.1,329.2 L1965.6,330.8 L1967.1,332.4 L1968.6,334.1 L1970.1,335.7 L1971.6,337.4 L1973.1,339.0 L1974.5,340.7 L1976.0,342.3 L1977.4,344.0 L1978.9,345.7 L1980.3,347.3 L1981.7,349.0 L1983.2,350.7 L1984.6,352.4 L1986.0,354.0 L1987.5,355.7 L1988.9,357.4 L1990.3,359.0 L1991.8,360.7 L1993.2,362.3 L1994.6,363.9 L1996.1,365.6 L1997.5,367.2 L1999.0,368.8 L2000.5,370.4 L2001.9,372.0 L2003.4,373.5 L2004.9,375.1 L2006.4,376.6 L2008.0,378.1 L2009.5,379.7 L2011.0,381.2 L2012.6,382.7 L2014.2,384.1 L2015.7,385.6 L2017.3,387.1 L2018.9,388.6 L2020.5,390.1 L2022.2,391.5 L2023.8,393.0 L2025.4,394.5 L2027.1,396.0 L2028.8,397.4 L2030.4,398.9 L2032.1,400.4 L2033.8,401.9 L2035.5,403.4 L2037.2,404.9 L2039.0,406.4 L2040.7,407.9 L2042.5,409.4 L2044.2,410.9 L2046.0,412.3 L2047.8,413.8 L2049.6,415.2 L2051.4,416.6 L2053.2,418.0 L2055.1,419.3 L2056.9,420.7 L2058.8,422.0 L2060.7,423.2 L2062.5,424.5 L2064.4,425.6 L2066.4,426.8 L2068.3,427.9 L2070.2,428.9 L2072.2,429.9 L2074.2,430.9 L2076.1,431.8 L2078.1,432.6 L2080.1,433.4 L2082.2,434.1 L2084.2,434.7 L2086.3,435.3 L2088.3,435.8 L2090.4,436.2 L2092.5,436.6 L2094.6,436.8 L2096.8,437.0 L2098.9,437.1 L2101.1,437.2 L2103.2,437.1 L2105.4,437.0 L2107.6,436.7 L2109.8,436.5 L2112.0,436.1 L2114.2,435.7 L2116.4,435.1 L2118.6,434.6 L2120.7,433.9 L2122.9,433.3 L2125.1,432.5 L2127.2,431.7 L2129.3,430.8 L2131.4,429.9 L2133.5,428.9 L2135.6,427.9 L2137.6,426.9 L2139.6,425.8 L2141.6,424.6 L2143.5,423.4 L2145.4,422.2 L2147.3,421.0 L2149.1,419.7 L2150.9,418.4 L2152.7,417.0 L2154.4,415.6 L2156.1,414.2 L2157.8,412.8 L2159.4,411.4 L2161.1,409.9 L2162.7,408.4 L2164.3,406.9 L2165.9,405.4 L2167.4,403.8 L2169.0,402.3 L2170.5,400.7 L2172.0,399.1 L2173.6,397.6 L2175.1,396.0 L2176.6,394.4 L2178.1,392.8 L2179.5,391.1 L2181.0,389.5 L2182.5,387.9 L2183.9,386.3 L2185.4,384.6 L2186.8,383.0 L2188.3,381.3 L2189.7,379.6 L2191.1,378.0 L2192.5,376.3 L2193.9,374.6 L2195.3,372.9 L2196.7,371.2 L2198.1,369.5 L2199.5,367.8 L2200.8,366.1 L2202.2,364.3 L2203.5,362.6 L2204.9,360.9 L2206.2,359.1 L2207.6,357.4 L2208.9,355.6 L2210.2,353.9 L2211.6,352.1 L2212.9,350.3 L2214.2,348.6 L2215.5,346.8 L2216.8,345.0 L2218.1,343.2 L2219.4,341.4 L2220.7,339.7 L2222.0,337.9 L2223.3,336.1 L2224.6,334.3 L2225.8,332.5 L2227.1,330.6 L2228.4,328.8 L2229.6,327.0 L2230.9,325.2 L2232.2,323.4 L2233.4,321.6 L2234.7,319.7 L2235.9,317.9 L2237.2,316.1 L2238.4,314.2 L2239.7,312.4 L2240.9,310.6 L2242.2,308.7 L2243.4,306.9 L2244.6,305.1 L2245.9,303.2 L2247.1,301.4 L2248.4,299.5 L2249.6,297.7 L2250.8,295.8 L2252.1,294.0 L2253.3,292.1 L2254.5,290.3 L2255.8,288.4 L2257.0,286.6 L2258.2,284.7 L2259.5,282.9 L2260.7,281.1 L2261.9,279.2 L2263.2,277.4 L2264.4,275.5 L2265.7,273.7 L2266.9,271.8 L2268.1,270.0 L2269.4,268.1 L2270.6,266.3 L2271.9,264.5 L2273.1,262.6 L2274.4,260.8 L2275.6,259.0 L2276.9,257.1 L2278.1,255.3 L2279.4,253.5 L2280.6,251.6 L2281.9,249.8 L2283.2,248.0 L2284.4,246.2 L2285.7,244.4 L2287.0,242.6 L2288.3,240.8 L2289.6,238.9 L2290.9,237.1 L2292.1,235.3 L2293.4,233.6 L2294.7,231.8 L2296.1,230.0 L2297.4,228.2 L2298.7,226.4 L2300.0,224.6 L2301.3,222.9 L2302.7,221.1 L2304.0,219.4 L2305.3,217.6 L2306.7,215.9 L2308.0,214.1 L2309.4,212.4 L2310.8,210.6 L2312.1,208.9 L2313.5,207.2 L2314.9,205.5 L2316.3,203.8 L2317.7,202.1 L2319.1,200.4 L2320.5,198.7 L2321.9,197.0 L2323.4,195.3 L2324.8,193.6 L2326.2,192.0 L2327.7,190.3 L2329.2,188.7 L2330.6,187.0 L2332.1,185.4 L2333.6,183.8 L2335.1,182.1 L2336.6,180.5 L2338.1,178.9 L2339.6,177.3 L2341.1,175.7 L2342.7,174.2 L2344.2,172.6 L2345.8,171.0 L2347.3,169.5 L2348.9,167.9 L2350.5,166.4 L2352.1,164.9 L2353.7,163.3 L2355.3,161.8 L2357.0,160.3 L2358.6,158.8 L2360.3,157.4"/>
<path stroke="#990000" d="M300.0,82.1 L301.5,83.5 L303.0,85.0 L304.4,86.5 L305.9,88.0 L307.3,89.5 L308.8,91.1 L310.2,92.6 L311.6,94.1 L313.0,95.7 L314.5,97.3 L315.9,98.8 L317.3,100.4 L318.7,102.0 L320.1,103.6 L321.5,105.2 L322.8,106.8 L324.2,108.4 L325.6,110.0 L327.0,111.6 L328.3,113.2 L329.7,114.9 L331.1,116.5 L332.4,118.1 L333.8,119.8 L335.1,121.4 L336.4,123.1 L337.8,124.7 L339.1,126.4 L340.5,128.0 L341.8,129.7 L343.1,131.3 L344.4,133.0 L345.8,134.6 L347.1,136.3 L348.4,138.0 L349.7,139.6 L351.0,141.3 L352.3,142.9 L353.6,144.6 L354.9,146.2 L356.3,147.9 L357.6,149.5 L358.9,151.2 L360.2,152.8 L361.5,154.5 L362.8,156.1 L364.1,157.7 L365.4,159.3 L366.7,161.0 L368.0,162.6 L369.3,164.2 L370.6,165.8 L371.9,167.4 L373.2,169.1 L374.5,170.7 L375.8,172.3 L377.1,173.9 L378.4,175.5 L379.7,177.1 L381.1,178.8 L382.4,180.4 L383.7,182.0 L385.0,183.7 L386.4,185.3 L387.7,186.9 L389.1,188.6 L390.4,190.2 L391.8,191.9 L393.1,193.6 L394.5,195.2 L395.9,196.9 L397.3,198.5 L398.7,200.2 L400.1,201.8 L401.6,203.4 L403.0,205.0 L404.5,206.5 L406.0,208.0 L407.6,209.5 L409.2,210.9 L410.8,212.2 L412.4,213.5 L414.1,214.8 L415.8,216.0 L417.6,217.1 L419.4,218.1 L421.2,219.1 L423.1,220.0 L425.1,220.8 L427.1,221.5 L429.1,222.1 L431.1,222.7 L433.1,223.1 L435.2,223.5 L437.3,223.8 L439.4,224.0 L441.5,224.1 L443.6,224.1 L445.8,224.0 L447.9,223.9 L450.0,223.6 L452.0,223.3 L454.1,222.8 L456.2,222.3 L458.2,221.7 L460.2,221.1 L462.2,220.4 L464.2,219.6 L466.2,218.8 L468.2,217.9 L470.2,217.1 L472.1,216.1 L474.1,215.2 L476.0,214.2 L477.9,213.2 L479.8,212.2 L481.7,211.2 L483.5,210.2 L485.4,209.2 L487.3,208.2 L489.1,207.2 L490.9,206.2 L492.7,205.1 L494.6,204.1 L496.4,203.1 L498.2,202.0 L499.9,201.0 L501.7,199.9 L503.5,198.8 L505.3,197.8 L507.0,196.7 L508.8,195.6 L510.5,194.5 L512.3,193.4 L514.0,192.3 L515.8,191.2 L517.5,190.1 L519.2,189.0 L521.0,187.9 L522.7,186.8 L524.5,185.7 L526.2,184.6 L527.9,183.4 L529.7,182.3 L531.4,181.2 L533.1,180.0 L534.9,178.9 L536.6,177.7 L538.4,176.6 L540.1,175.4 L541.9,174.3 L543.7,173.1 L545.4,171.9 L547.2,170.7 L549.0,169.6 L550.8,168.4 L552.6,167.2 L554.4,166.0 L556.2,164.9 L558.0,163.7 L559.8,162.5 L561.7,161.3 L563.5,160.2 L565.3,159.0 L567.2,157.8 L569.0,156.7 L570.9,155.5 L572.7,154.4 L574.6,153.3 L576.5,152.1 L578.3,151.0 L580.2,149.9 L582.1,148.8 L584.0,147.8 L585.9,146.7 L587.8,145.6 L589.7,144.6 L591.6,143.6 L593.5,142.6 L595.4,141.6 L597.4,140.6 L599.3,139.6 L601.2,138.7 L603.2,137.8 L605.1,136.8 L607.0,136.0 L609.0,135.1 L611.0,134.3 L612.9,133.5 L614.9,132.7 L616.8,131.9 L618.8,131.2 L620.8,130.4 L622.8,129.8 L624.8,129.1 L626.8,128.5 L628.8,127.9 L630.8,127.3 L632.8,126.7 L634.8,126.2 L636.8,125.7 L638.8,125.3 L640.8,124.9 L642.8,124.5 L644.9,124.2 L646.9,123.8 L648.9,123.6 L651.0,123.3 L653.0,123.1 L655.0,123.0 L657.1,122.9 L659.1,122.8 L661.2,122.7 L663.2,122.7 L665.3,122.7 L667.4,122.7 L669.4,122.8 L671.5,122.9 L673.6,123.0 L675.6,123.1 L677.7,123.3 L679.8,123.5 L681.8,123.7 L683.9,123.9 L686.0,124.2 L688.1,124.5 L690.2,124.8 L692.2,125.1 L694.3,125.4 L696.4,125.8 L698.5,126.1 L700.6,126.5 L702.6,126.9 L704.7,127.3 L706.8,127.7 L708.9,128.1 L711.0,128.5 L713.0,128.9 L715.1,129.3 L717.2,129.8 L719.3,130.2 L721.3,130.7 L723.4,131.2 L725.5,131.6 L727.5,132.1 L729.6,132.6 L731.7,133.1 L733.8,133.6 L735.8,134.2 L737.9,134.7 L739.9,135.2 L742.0,135.8 L744.1,136.3 L746.1,136.9 L748.2,137.5 L750.2,138.0 L752.3,138.6 L754.3,139.2 L756.4,139.8 L758.4,140.4 L760.4,141.1 L762.5,141.7 L764.5,142.3 L766.5,143.0 L768.6,143.7 L770.6,144.3 L772.6,145.0 L774.6,145.7 L776.6,146.4 L778.7,147.1 L780.7,147.8 L782.7,148.5 L784.7,149.2 L786.7,150.0 L788.7,150.7 L790.7,151.5 L792.6,152.3 L794.6,153.0 L796.6,153.8 L798.6,154.6 L800.5,155.4 L802.5,156.2 L804.5,157.1 L806.4,157.9 L808.4,158.7 L810.3,159.6 L812.3,160.4 L814.2,161.3 L816.1,162.2 L818.1,163.1 L820.0,164.0 L821.9,164.9 L823.8,165.8 L825.7,166.7 L827.6,167.6 L829.5,168.6 L831.4,169.5 L833.3,170.5 L835.2,171.5 L837.0,172.4 L838.9,173.4 L840.8,174.4 L842.6,175.4 L844.5,176.5 L846.3,177.5 L848.1,178.5 L850.0,179.6 L851.8,180.6 L853.6,181.7 L855.4,182.8 L857.2,183.9 L859.0,184.9 L860.8,186.1 L862.6,187.2 L864.4,188.3 L866.1,189.4 L867.9,190.6 L869.6,191.7 L871.4,192.9 L873.1,194.1 L874.8,195.2 L876.6,196.4 L878.3,197.6 L880.0,198.9 L881.7,200.1 L883.4,201.3 L885.1,202.6 L886.7,203.8 L888.4,205.1 L890.1,206.3 L891.7,207.6 L893.4,208.9 L895.0,210.2 L896.6,211.5 L898.2,212.8 L899.9,214.2 L901.5,215.5 L903.1,216.8 L904.7,218.2 L906.2,219.5 L907.8,220.9 L909.4,222.3 L911.0,223.7 L912.5,225.1 L914.1,226.5 L915.6,227.9 L917.2,229.3 L918.7,230.7 L920.2,232.2 L921.7,233.6 L923.2,235.1 L924.7,236.5 L926.2,238.0 L927.7,239.5 L929.2,240.9 L930.7,242.4 L932.1,243.9 L933.6,245.4 L935.0,246.9 L936.5,248.5 L937.9,250.0 L939.4,251.5 L940.8,253.1 L942.2,254.6 L943.6,256.2 L945.0,257.7 L946.4,259.3 L947.8,260.9 L949.2,262.4 L950.6,264.0 L952.0,265.6 L953.4,267.2 L954.7,268.8 L956.1,270.4 L957.4,272.0 L958.8,273.7 L960.1,275.3 L961.4,276.9 L962.8,278.6 L964.1,280.2 L965.4,281.9 L966.7,283.5 L968.0,285.2 L969.3,286.9 L970.6,288.5 L971.9,290.2 L973.2,291.9 L974.4,293.6 L975.7,295.3 L977.0,297.0 L978.2,298.7 L979.5,300.4 L980.7,302.1 L981.9,303.8 L983.2,305.6 L984.4,307.3 L985.6,309.0 L986.8,310.8 L988.1,312.5 L989.3,314.3 L990.5,316.0 L991.7,317.8 L992.8,319.5 L994.0,321.3 L995.2,323.1 L996.4,324.8 L997.5,326.6 L998.7,328.4 L999.9,330.2 L1001.0,332.0 L1002.2,333.7 L1003.3,335.5 L1004.4,337.3 L1005.6,339.1 L1006.7,340.9 L1007.8,342.7 L1008.9,344.6 L1010.0,346.4 L1011.2,348.2 L1012.3,350.0 L1013.4,351.8 L1014.4,353.6 L1015.5,355.5 L1016.6,357.3 L1017.7,359.1 L1018.8,361.0 L1019.8,362.8 L1020.9,364.6 L1022.0,366.5 L1023.0,368.3 L1024.1,370.2 L1025.1,372.0 L1026.1,373.9 L1027.2,375.7 L1028.2,377.6 L1029.2,379.4 L1030.3,381.3 L1031.3,383.1 L1032.3,385.0 L1033.3,386.9 L1034.3,388.7 L1035.3,390.6 L1036.3,392.5 L1037.3,394.3 L1038.3,396.2 L1039.3,398.1 L1040.3,400.0 L1041.3,401.8 L1042.2,403.7 L1043.2,405.6 L1044.2,407.5 L1045.1,409.4 L1046.1,411.2 L1047.0,413.1 L1048.0,415.0 L1048.9,416.9 L1049.9,418.8 L1050.8,420.7 L1051.8,422.6 L1052.7,424.5 L1053.6,426.4 L1054.5,428.3 L1055.5,430.2 L1056.4,432.1 L1057.3,434.0 L1058.2,435.9 L1059.1,437.8 L1060.0,439.7 L1060.9,441.6 L1061.8,443.5 L1062.7,445.4 L1063.6,447.3 L1064.5,449.3 L1065.4,451.2 L1066.3,453.1 L1067.2,455.0 L1068.0,456.9 L1068.9,458.9 L1069.8,460.8 L1070.6,462.7 L1071.5,464.6 L1072.4,466.6 L1073.2,468.5 L1074.1,470.4 L1075.0,472.3 L1075.8,474.3 L1076.7,476.2 L1077.5,478.1 L1078.3,480.1 L1079.2,482.0 L1080.0,483.9 L1080.9,485.9 L1081.7,487.8 L1082.5,489.7 L1083.4,491.7 L1084.2,493.6 L1085.0,495.6 L1085.8,497.5 L1086.7,499.4 L1087.5,501.4 L1088.3,503.3 L1089.1,505.3 L1089.9,507.2 L1090.7,509.2 L1091.5,511.1 L1092.3,513.1 L1093.1,515.0 L1093.9,517.0 L1094.7,518.9 L1095.5,520.9 L1096.3,522.8 L1097.1,524.8 L1097.9,526.7 L1098.7,528.7 L1099.5,530.6 L1100.3,532.6 L1101.1,534.6 L1101.9,536.5 L1102.7,538.5 L1103.4,540.4 L1104.2,542.4 L1105.0,544.3 L1105.8,546.3 L1106.5,548.3 L1107.3,550.2 L1108.1,552.2 L1108.9,554.1 L1109.6,556.1 L1110.4,558.1 L1111.2,560.0 L1111.9,562.0 L1112.7,563.9 L1113.5,565.9 L1114.2,567.9 L1115.0,569.8 L1115.8,571.8 L1116.5,573.8 L1117.3,575.7 L1118.0,577.7 L1118.8,579.7 L1119.6,581.6 L1120.3,583.6 L1121.1,585.6 L1121.8,587.5 L1122.6,589.5 L1123.3,591.4 L1124.1,593.4 L1124.8,595.4 L1125.6,597.3 L1126.4,599.3 L1127.1,601.3 L1127.9,603.2 L1128.6,605.2 L1129.4,607.2 L1130.1,609.1 L1130.9,611.1 L1131.6,613.1 L1132.4,615.0 L1133.1,617.0 L1133.9,619.0 L1134.6,620.9 L1135.4,622.9 L1136.1,624.9 L1136.9,626.8 L1137.6,628.8 L1138.4,630.8 L1139.1,632.7 L1139.9,634.7 L1140.6,636.6 L1141.4,638.6 L1142.1,640.6 L1142.9,642.5 L1143.6,644.5 L1144.4,646.5 L1145.1,648.4 L1145.9,650.4 L1146.6,652.3 L1147.4,654.3 L1148.1,656.3 L1148.9,658.2 L1149.6,660.2 L1150.4,662.1 L1151.1,664.1 L1151.9,666.0 L1152.7,668.0 L1153.4,670.0 L1154.2,671.9 L1154.9,673.9 L1155.7,675.8 L1156.5,677.8 L1157.2,679.7 L1158.0,681.7 L1158.7,683.6 L1159.5,685.6 L1160.3,687.5 L1161.0,689.5 L1161.8,691.4 L1162.6,693.4 L1163.3,695.3 L1164.1,697.3 L1164.9,699.2 L1165.7,701.2 L1166.4,703.1 L1167.2,705.0 L1168.0,707.0 L1168.8,708.9 L1169.6,710.9 L1170.3,712.8 L1171.1,714.8 L1171.9,716.7 L1172.7,718.6 L1173.5,720.6 L1174.3,722.5 L1175.1,724.5 L1175.9,726.4 L1176.7,728.3 L1177.5,730.3 L1178.3,732.2 L1179.1,734.2 L1179.9,736.1 L1180.7,738.1 L1181.5,740.0 L1182.3,741.9 L1183.1,743.9 L1183.9,745.8 L1184.7,747.8 L1185.5,749.7 L1186.3,751.6 L1187.1,753.6 L1188.0,755.5 L1188.8,757.5 L1189.6,759.4 L1190.4,761.4 L1191.3,763.3 L1192.1,765.3 L1192.9,767.2 L1193.8,769.1 L1194.6,771.1 L1195.4,773.0 L1196.3,775.0 L1197.1,776.9 L1198.0,778.9 L1198.8,780.8 L1199.7,782.8 L1200.5,784.8 L1201.4,786.7 L1202.2,788.7 L1203.1,790.6 L1203.9,792.6 L1204.8,794.5 L1205.7,796.5 L1206.5,798.5 L1207.4,800.4 L1208.3,802.4 L1209.2,804.4 L1210.1,806.3 L1210.9,808.3 L1211.8,810.3 L1212.7,812.2 L1213.6,814.2 L1214.5,816.2 L1215.4,818.1 L1216.4,820.1 L1217.3,822.0 L1218.3,823.9 L1219.3,825.8 L1220.3,827.7 L1221.4,829.5 L1222.4,831.3 L1223.6,833.1 L1224.7,834.9 L1225.9,836.6 L1227.1,838.3 L1228.4,840.0 L1229.7,841.6 L1231.1,843.2 L1232.5,844.7 L1234.0,846.2 L1235.5,847.7 L1237.1,849.0 L1238.8,850.4 L1240.5,851.6 L1242.3,852.8 L1244.2,853.9 L1246.0,855.0 L1248.0,855.9 L1250.0,856.7 L1252.0,857.4 L1254.0,858.0 L1256.0,858.4 L1258.1,858.7 L1260.1,858.7 L1262.2,858.6 L1264.2,858.3 L1266.2,857.9 L1268.2,857.3 L1270.2,856.6 L1272.1,855.7 L1274.0,854.7 L1275.9,853.6 L1277.7,852.4 L1279.5,851.1 L1281.2,849.8 L1282.9,848.3 L1284.4,846.8 L1286.0,845.2 L1287.4,843.6 L1288.8,841.9 L1290.2,840.2 L1291.5,838.4 L1292.7,836.7 L1293.9,834.8 L1295.1,833.0 L1296.2,831.1 L1297.3,829.3 L1298.4,827.4 L1299.4,825.5 L1300.4,823.6 L1301.4,821.7 L1302.3,819.8 L1303.3,817.9 L1304.2,816.0 L1305.1,814.2 L1306.0,812.3 L1306.9,810.4 L1307.8,808.6 L1308.7,806.7 L1309.6,804.8 L1310.5,803.0 L1311.4,801.1 L1312.3,799.3 L1313.2,797.4 L1314.1,795.6 L1315.1,793.7 L1316.1,791.9 L1317.0,790.0 L1318.0,788.2 L1319.0,786.4 L1320.1,784.5 L1321.1,782.7 L1322.1,780.9 L1323.2,779.0 L1324.2,777.2 L1325.3,775.3 L1326.3,773.5 L1327.4,771.6 L1328.4,769.8 L1329.5,767.9 L1330.5,766.1 L1331.5,764.2 L1332.6,762.4 L1333.6,760.5 L1334.6,758.6 L1335.5,756.7 L1336.5,754.8 L1337.4,752.9 L1338.3,751.0 L1339.2,749.1 L1340.1,747.2 L1340.9,745.3 L1341.7,743.3 L1342.5,741.4 L1343.3,739.4 L1344.1,737.5 L1344.8,735.5 L1345.5,733.5 L1346.2,731.5 L1346.9,729.6 L1347.5,727.6 L1348.2,725.6 L1348.8,723.6 L1349.4,721.6 L1350.0,719.5 L1350.6,717.5 L1351.2,715.5 L1351.8,713.5 L1352.4,711.5 L1352.9,709.4 L1353.5,707.4 L1354.0,705.4 L1354.5,703.3 L1355.1,701.3 L1355.6,699.3 L1356.1,697.2 L1356.7,695.2 L1357.2,693.1 L1357.7,691.1 L1358.2,689.0 L1358.8,687.0 L1359.3,685.0 L1359.8,682.9 L1360.4,680.9 L1360.9,678.8 L1361.5,676.8 L1362.0,674.8 L1362.6,672.7 L1363.2,670.7 L1363.7,668.7 L1364.3,666.6 L1364.9,664.6 L1365.5,662.6 L1366.1,660.6 L1366.7,658.5 L1367.3,656.5 L1367.9,654.5 L1368.5,652.5 L1369.1,650.5 L1369.8,648.4 L1370.4,646.4 L1371.0,644.4 L1371.6,642.4 L1372.3,640.4 L1372.9,638.4 L1373.6,636.4 L1374.2,634.4 L1374.9,632.3 L1375.6,630.3 L1376.2,628.3 L1376.9,626.3 L1377.6,624.3 L1378.2,622.3 L1378.9,620.3 L1379.6,618.3 L1380.3,616.3 L1381.0,614.3 L1381.7,612.3 L1382.4,610.3 L1383.1,608.3 L1383.8,606.3 L1384.5,604.3 L1385.2,602.4 L1385.9,600.4 L1386.6,598.4 L1387.3,596.4 L1388.0,594.4 L1388.7,592.4 L1389.5,590.4 L1390.2,588.4 L1390.9,586.4 L1391.6,584.5 L1392.4,582.5 L1393.1,580.5 L1393.8,578.5 L1394.6,576.5 L1395.3,574.5 L1396.0,572.5 L1396.8,570.6 L1397.5,568.6 L1398.2,566.6 L1399.0,564.6 L1399.7,562.6 L1400.5,560.7 L1401.2,558.7 L1402.0,556.7 L1402.7,554.7 L1403.4,552.7 L1404.2,550.8 L1404.9,548.8 L1405.7,546.8 L1406.4,544.8 L1407.2,542.8 L1407.9,540.9 L1408.7,538.9 L1409.4,536.9 L1410.2,534.9 L1410.9,533.0 L1411.7,531.0 L1412.4,529.0 L1413.2,527.0 L1413.9,525.1 L1414.6,523.1 L1415.4,521.1 L1416.1,519.1 L1416.9,517.2 L1417.6,515.2 L1418.3,513.2 L1419.1,511.2 L1419.8,509.2 L1420.6,507.3 L1421.3,505.3 L1422.0,503.3 L1422.7,501.3 L1423.5,499.4 L1424.2,497.4 L1424.9,495.4 L1425.6,493.4 L1426.4,491.4 L1427.1,489.5 L1427.8,487.5 L1428.5,485.5 L1429.2,483.5 L1430.0,481.6 L1430.7,479.6 L1431.4,477.6 L1432.1,475.6 L1432.8,473.7 L1433.5,471.7 L1434.3,469.7 L1435.0,467.7 L1435.7,465.8 L1436.4,463.8 L1437.1,461.8 L1437.9,459.8 L1438.6,457.9 L1439.3,455.9 L1440.0,453.9 L1440.8,452.0 L1441.5,450.0 L1442.3,448.0 L1443.0,446.1 L1443.7,444.1 L1444.5,442.2 L1445.2,440.2 L1446.0,438.2 L1446.8,436.3 L1447.5,434.3 L1448.3,432.4 L1449.1,430.4 L1449.9,428.5 L1450.6,426.6 L1451.4,424.6 L1452.2,422.7 L1453.0,420.7 L1453.8,418.8 L1454.7,416.9 L1455.5,414.9 L1456.3,413.0 L1457.1,411.1 L1458.0,409.2 L1458.8,407.2 L1459.7,405.3 L1460.5,403.4 L1461.4,401.5 L1462.3,399.6 L1463.2,397.7 L1464.1,395.8 L1465.0,393.9 L1465.9,392.0 L1466.8,390.1 L1467.8,388.2 L1468.7,386.3 L1469.6,384.5 L1470.6,382.6 L1471.6,380.7 L1472.6,378.8 L1473.6,377.0 L1474.6,375.1 L1475.6,373.3 L1476.6,371.4 L1477.6,369.6 L1478.7,367.7 L1479.7,365.9 L1480.8,364.0 L1481.9,362.2 L1483.0,360.4 L1484.1,358.6 L1485.2,356.7 L1486.4,354.9 L1487.5,353.1 L1488.7,351.3 L1489.8,349.5 L1491.0,347.7 L1492.2,345.9 L1493.4,344.2 L1494.7,342.4 L1495.9,340.7 L1497.1,338.9 L1498.4,337.2 L1499.7,335.4 L1501.0,333.7 L1502.3,332.0 L1503.6,330.3 L1504.9,328.6 L1506.3,326.9 L1507.6,325.3 L1509.0,323.6 L1510.4,322.0 L1511.8,320.4 L1513.2,318.8 L1514.6,317.2 L1516.0,315.6 L1517.5,314.0 L1519.0,312.5 L1520.4,310.9 L1521.9,309.4 L1523.4,307.9 L1525.0,306.5 L1526.5,305.0 L1528.0,303.5 L1529.6,302.1 L1531.2,300.7 L1532.8,299.3 L1534.4,298.0 L1536.0,296.6 L1537.6,295.3 L1539.3,294.0 L1540.9,292.7 L1542.6,291.4 L1544.3,290.2 L1546.0,289.0 L1547.7,287.8 L1549.4,286.6 L1551.2,285.5 L1553.0,284.4 L1554.7,283.3 L1556.5,282.2 L1558.3,281.2 L1560.1,280.2 L1562.0,279.2 L1563.8,278.2 L1565.7,277.3 L1567.6,276.4 L1569.4,275.5 L1571.4,274.7 L1573.3,273.8 L1575.2,273.0 L1577.1,272.3 L1579.1,271.6 L1581.1,270.8 L1583.1,270.2 L1585.0,269.5 L1587.1,268.9 L1589.1,268.3 L1591.1,267.8 L1593.1,267.2 L1595.2,266.7 L1597.2,266.2 L1599.3,265.8 L1601.3,265.4 L1603.4,265.0 L1605.5,264.6 L1607.6,264.3 L1609.6,263.9 L1611.7,263.7 L1613.8,263.4 L1615.9,263.2 L1618.1,263.0 L1620.2,262.8 L1622.3,262.7 L1624.4,262.5 L1626.5,262.4 L1628.6,262.4 L1630.8,262.3 L1632.9,262.3 L1635.0,262.4 L1637.1,262.4 L1639.2,262.5 L1641.4,262.6 L1643.5,262.7 L1645.6,262.8 L1647.7,263.0 L1649.9,263.1 L1652.0,263.3 L1654.1,263.5 L1656.2,263.7 L1658.4,264.0 L1660.5,264.2 L1662.6,264.4 L1664.7,264.7 L1666.8,264.9 L1669.0,265.2 L1671.1,265.4 L1673.2,265.7 L1675.3,266.0 L1677.4,266.2 L1679.5,266.5 L1681.7,266.7 L1683.8,266.9 L1685.9,267.2 L1688.0,267.4 L1690.1,267.6 L1692.2,267.8 L1694.3,267.9 L1696.4,268.1 L1698.5,268.2 L1700.6,268.4 L1702.8,268.5 L1704.9,268.5 L1707.0,268.6 L1709.1,268.6 L1711.2,268.6 L1713.2,268.6 L1715.3,268.6 L1717.4,268.5 L1719.5,268.4 L1721.6,268.3 L1723.7,268.2 L1725.8,268.0 L1727.9,267.8 L1730.0,267.6 L1732.0,267.4 L1734.1,267.2 L1736.2,266.9 L1738.3,266.7 L1740.3,266.4 L1742.4,266.1 L1744.5,265.7 L1746.5,265.4 L1748.6,265.0 L1750.6,264.6 L1752.7,264.2 L1754.7,263.8 L1756.8,263.4 L1758.8,262.9 L1760.9,262.4 L1762.9,261.9 L1765.0,261.4 L1767.0,260.9 L1769.0,260.4 L1771.1,259.8 L1773.1,259.3 L1775.1,258.7 L1777.1,258.1 L1779.1,257.5 L1781.2,256.8 L1783.2,256.2 L1785.2,255.6 L1787.2,254.9 L1789.2,254.2 L1791.2,253.5 L1793.2,252.8 L1795.2,252.1 L1797.1,251.4 L1799.1,250.7 L1801.1,249.9 L1803.1,249.2 L1805.1,248.4 L1807.0,247.6 L1809.0,246.9 L1811.0,246.1 L1812.9,245.3 L1814.9,244.5 L1816.8,243.7 L1818.8,242.8 L1820.8,242.0 L1822.7,241.2 L1824.7,240.3 L1826.6,239.5 L1828.6,238.6 L1830.5,237.8 L1832.4,236.9 L1834.4,236.1 L1836.3,235.2 L1838.3,234.3 L1840.2,233.5 L1842.1,232.6 L1844.1,231.7 L1846.0,230.8 L1848.0,229.9 L1849.9,229.1 L1851.8,228.2 L1853.8,227.3 L1855.7,226.4 L1857.6,225.5 L1859.6,224.6 L1861.5,223.8 L1863.4,222.9 L1865.4,222.0 L1867.3,221.1 L1869.3,220.3 L1871.2,219.4 L1873.1,218.5 L1875.1,217.7 L1877.0,216.8 L1878.9,216.0 L1880.9,215.1 L1882.8,214.3 L1884.8,213.4 L1886.7,212.6 L1888.7,211.8 L1890.6,211.0 L1892.6,210.2 L1894.5,209.4 L1896.5,208.6 L1898.4,207.8 L1900.4,207.0 L1902.3,206.2 L1904.3,205.5 L1906.3,204.7 L1908.2,204.0 L1910.2,203.3 L1912.2,202.5 L1914.1,201.8 L1916.1,201.1 L1918.1,200.5 L1920.1,199.8 L1922.1,199.1 L1924.1,198.5 L1926.1,197.9 L1928.1,197.2 L1930.1,196.6 L1932.1,196.0 L1934.1,195.5 L1936.1,194.9 L1938.1,194.4 L1940.1,193.9 L1942.1,193.3 L1944.2,192.9 L1946.2,192.4 L1948.2,191.9 L1950.3,191.5 L1952.3,191.1 L1954.4,190.7 L1956.4,190.3 L1958.5,189.9 L1960.5,189.6 L1962.6,189.3 L1964.7,189.0 L1966.8,188.7 L1968.8,188.4 L1970.9,188.2 L1973.0,187.9 L1975.1,187.7 L1977.2,187.5 L1979.3,187.4 L1981.4,187.2 L1983.5,187.1 L1985.6,187.0 L1987.7,186.9 L1989.9,186.8 L1992.0,186.7 L1994.1,186.7 L1996.2,186.7 L1998.3,186.7 L2000.4,186.7 L2002.6,186.7 L2004.7,186.7 L2006.8,186.8 L2008.9,186.9 L2011.1,187.0 L2013.2,187.1 L2015.3,187.2 L2017.4,187.3 L2019.6,187.5 L2021.7,187.7 L2023.8,187.9 L2025.9,188.1 L2028.1,188.3 L2030.2,188.6 L2032.3,188.8 L2034.4,189.1 L2036.5,189.4 L2038.7,189.7 L2040.8,190.0 L2042.9,190.3 L2045.0,190.7 L2047.1,191.0 L2049.2,191.4 L2051.3,191.8 L2053.4,192.2 L2055.5,192.6 L2057.6,193.1 L2059.7,193.5 L2061.7,194.0 L2063.8,194.5 L2065.9,195.0 L2067.9,195.5 L2070.0,196.0 L2072.1,196.5 L2074.1,197.1 L2076.2,197.6 L2078.2,198.2 L2080.2,198.8 L2082.3,199.4 L2084.3,200.0 L2086.3,200.6 L2088.3,201.3 L2090.4,201.9 L2092.4,202.6 L2094.4,203.2 L2096.4,203.9 L2098.4,204.6 L2100.4,205.2 L2102.4,205.9 L2104.3,206.6 L2106.3,207.3 L2108.3,208.0 L2110.3,208.7 L2112.3,209.5 L2114.2,210.2 L2116.2,210.9 L2118.2,211.6 L2120.2,212.4 L2122.1,213.1 L2124.1,213.8 L2126.1,214.6 L2128.0,215.3 L2130.0,216.0 L2132.0,216.8 L2134.0,217.5 L2135.9,218.2 L2137.9,218.9 L2139.9,219.7 L2141.8,220.4 L2143.8,221.1 L2145.8,221.8 L2147.7,222.5 L2149.7,223.2 L2151.7,223.9 L2153.7,224.6 L2155.6,225.3 L2157.6,225.9 L2159.6,226.6 L2161.6,227.3 L2163.6,227.9 L2165.6,228.6 L2167.6,229.2 L2169.6,229.8 L2171.6,230.4 L2173.6,231.0 L2175.6,231.6 L2177.6,232.1 L2179.6,232.7 L2181.7,233.2 L2183.7,233.8 L2185.7,234.3 L2187.7,234.8 L2189.8,235.3 L2191.8,235.7 L2193.9,236.2 L2195.9,236.7 L2198.0,237.1 L2200.0,237.5 L2202.1,237.9 L2204.2,238.3 L2206.2,238.7 L2208.3,239.1 L2210.4,239.4 L2212.5,239.8 L2214.6,240.1 L2216.6,240.5 L2218.7,240.8 L2220.8,241.1 L2222.9,241.4 L2225.0,241.6 L2227.1,241.9 L2229.2,242.2 L2231.3,242.4 L2233.4,242.6 L2235.5,242.9 L2237.6,243.1 L2239.7,243.3 L2241.8,243.5 L2243.9,243.7 L2246.1,243.8 L2248.2,244.0 L2250.3,244.1 L2252.4,244.3 L2254.5,244.4 L2256.6,244.5 L2258.8,244.6 L2260.9,244.7 L2263.0,244.8 L2265.1,244.9 L2267.2,245.0 L2269.4,245.1 L2271.5,245.1 L2273.6,245.2 L2275.7,245.2 L2277.9,245.2 L2280.0,245.3 L2282.1,245.3 L2284.2,245.3 L2286.3,245.3 L2288.5,245.3 L2290.6,245.3 L2292.7,245.2 L2294.8,245.2 L2296.9,245.2 L2299.1,245.1 L2301.2,245.1 L2303.3,245.0 L2305.4,244.9 L2307.5,244.9 L2309.6,244.8 L2311.7,244.7 L2313.8,244.6 L2315.9,244.5 L2318.0,244.4 L2320.1,244.3 L2322.2,244.1 L2324.3,244.0 L2326.4,243.9 L2328.5,243.8 L2330.6,243.6 L2332.7,243.5 L2334.8,243.3 L2336.9,243.2 L2338.9,243.0 L2341.0,242.8 L2343.1,242.7 L2345.2,242.5 L2347.3,242.4 L2349.4,242.2 L2351.5,242.1 L2353.6,241.9 L2355.7,241.8 L2357.9,241.6 L2360.0,241.5"/>
</g>
<text class="t" x="313.4" y="1536" text-anchor="middle">50</text>
<text class="t" x="498.4" y="1536" text-anchor="middle">100</text>
<text class="t" x="683.4" y="1536" text-anchor="middle">150</text>
<text class="t" x="868.4" y="1536" text-anchor="middle">200</text>
<text class="t" x="1053.4" y="1536" text-anchor="middle">250</text>
<text class="t" x="1238.4" y="1536" text-anchor="middle">300</text>
<text class="t" x="1423.4" y="1536" text-anchor="middle">350</text>
<text class="t" x="1608.4" y="1536" text-anchor="middle">400</text>
<text class="t" x="1793.4" y="1536" text-anchor="middle">450</text>
<text class="t" x="1978.4" y="1536" text-anchor="middle">500</text>
<text class="t" x="2163.4" y="1536" text-anchor="middle">550</text>
<text class="t" x="2348.4" y="1536" text-anchor="middle">600</text>
<text class="t" x="278" y="92.8" text-anchor="end">0</text>
<text class="t" x="279" y="421.7" text-anchor="end">−<tspan dx="-4.1">0.2</tspan></text>
<text class="t" x="279" y="766.7" text-anchor="end">−<tspan dx="-4.1">0.4</tspan></text>
<text class="t" x="279" y="1103.4" text-anchor="end">−<tspan dx="-4.1">0.6</tspan></text>
<text class="t" x="279" y="1448.5" text-anchor="end">−<tspan dx="-4.1">0.8</tspan></text>
<text class="b" font-size="74.5" x="1333.3" y="1662.7" text-anchor="middle">Temperature (°C)</text>
<text class="b" font-size="74.5" transform="translate(111.2,831.5) rotate(-90)" text-anchor="middle">DTG (%/min)</text>
<text class="b" font-size="83.3" x="26.3" y="139.8" letter-spacing="1.5">(B)</text>
<path d="M1619,828.3H1730" stroke="#000000" stroke-width="12.5" stroke-linecap="round" fill="none"/>
<text class="t" x="1744.3" y="853.1" letter-spacing="0">GP</text>
<path d="M1619,930.4H1730" stroke="#0000ff" stroke-width="12.5" stroke-linecap="round" fill="none"/>
<text class="t" x="1744.3" y="955.2" letter-spacing="-0.87">GP-AgNPs</text>
<path d="M1619,1032.5H1730" stroke="#ff00ff" stroke-width="12.5" stroke-linecap="round" fill="none"/>
<text class="t" x="1744.3" y="1057.3" letter-spacing="-0.87">GP-AgNPs-PB1</text>
<path d="M1619,1134.6H1730" stroke="#008000" stroke-width="12.5" stroke-linecap="round" fill="none"/>
<text class="t" x="1744.3" y="1159.4" letter-spacing="-0.87">GP-AgNPs-PB2</text>
<path d="M1619,1236.7H1730" stroke="#990000" stroke-width="12.5" stroke-linecap="round" fill="none"/>
<text class="t" x="1744.3" y="1261.5" letter-spacing="-0.87">GP-AgNPs-PB3</text>
</svg></body></html>
